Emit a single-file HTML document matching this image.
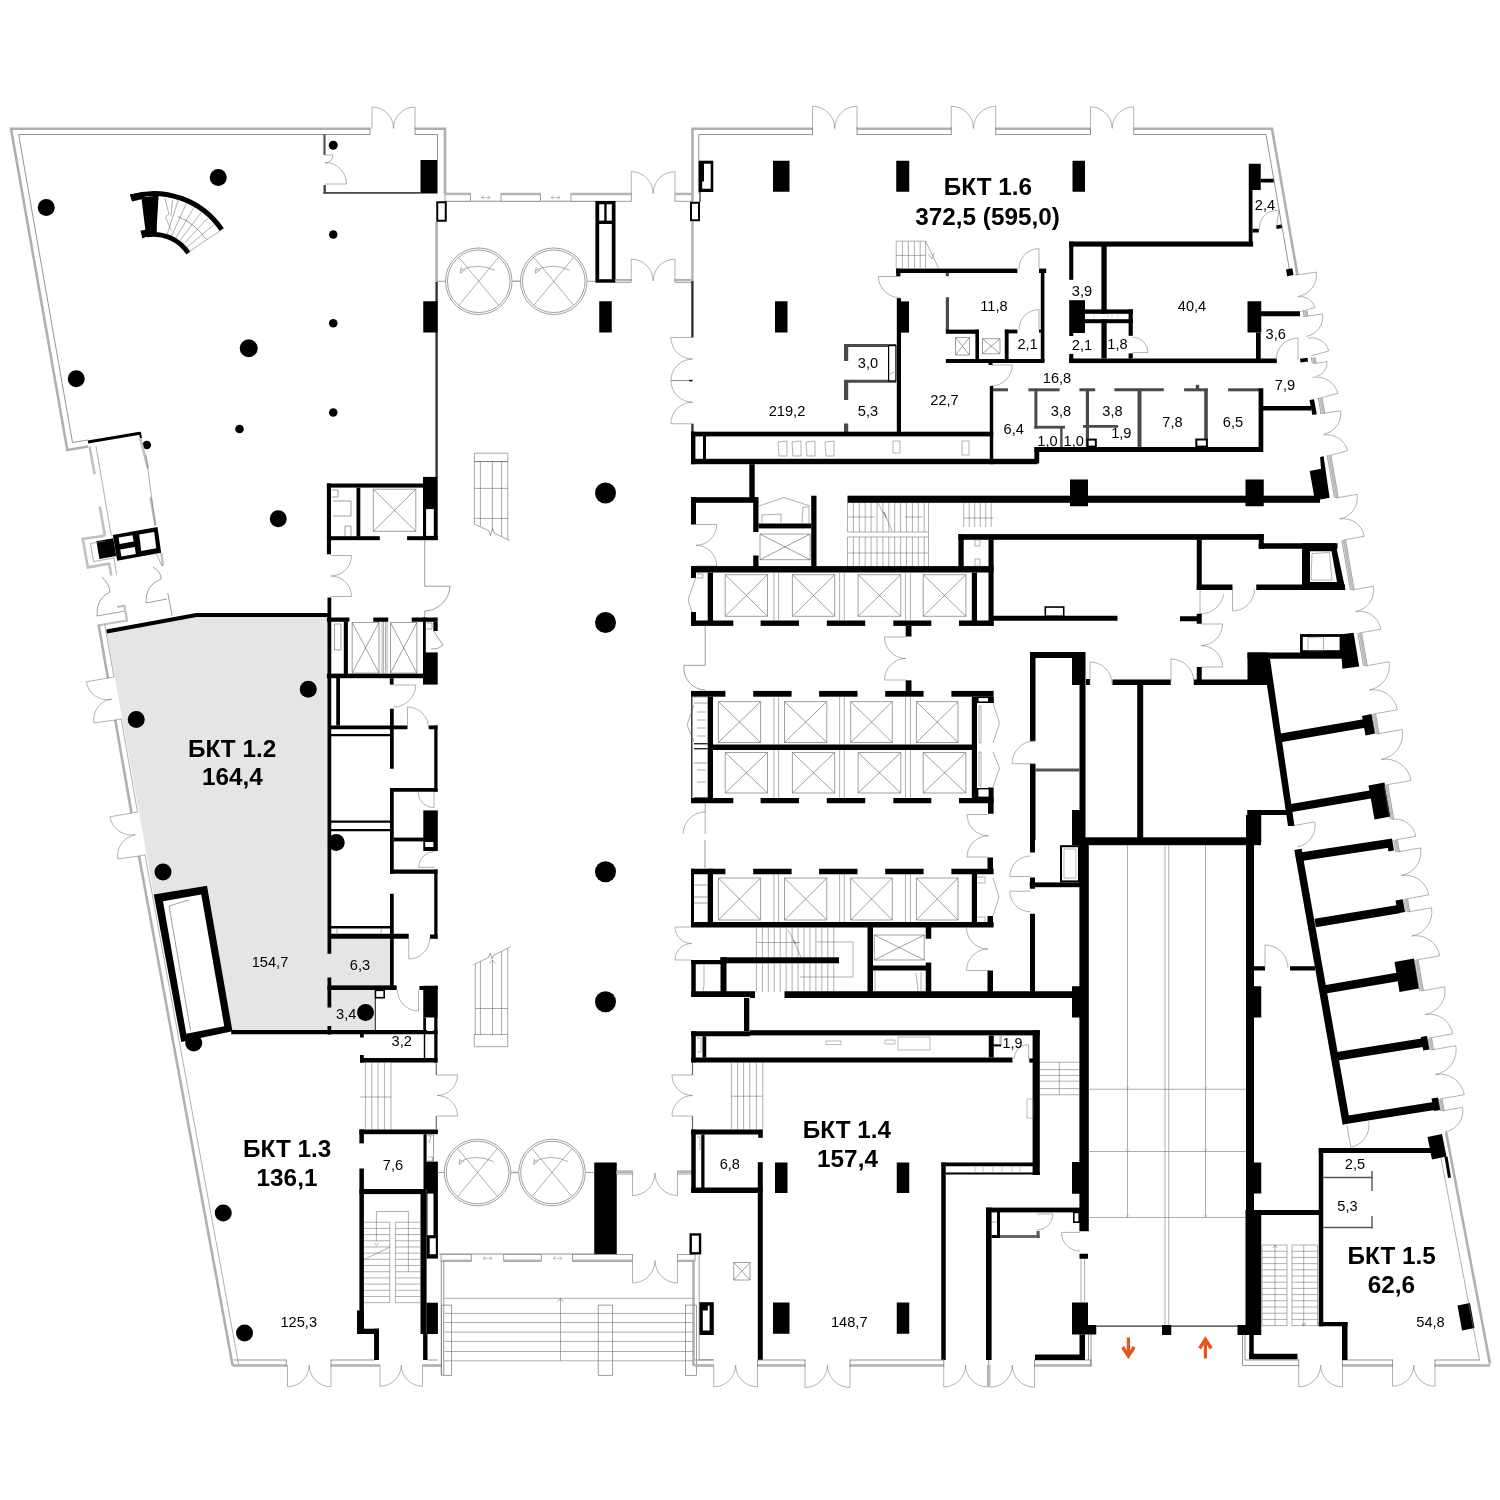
<!DOCTYPE html>
<html><head><meta charset="utf-8"><title>Plan</title>
<style>html,body{margin:0;padding:0;background:#fff}body{width:1500px;height:1500px;overflow:hidden}svg{display:block}text{font-family:"Liberation Sans",sans-serif;fill:#000}</style>
</head><body>
<svg width="1500" height="1500" viewBox="0 0 1500 1500">
<rect width="1500" height="1500" fill="#fff"/>
<polygon points="106.5,631 196.25,614.5 331,614.5 331,938.75 390,938.75 390,987 374,987 374,1032 232.5,1032 207,885.75 153.75,894.5" fill="#e5e5e5"/>
<polyline points="370,128.7 11,128.7 67.3,450 88,446.5" fill="none" stroke="#b0b0b0" stroke-width="2.6" />
<polyline points="370,134.5 18.6,134.5 72.5,442.5 88,440" fill="none" stroke="#7a7a7a" stroke-width="0.8" />
<line x1="370" y1="127.6" x2="370" y2="134.8" stroke="#7a7a7a" stroke-width="0.8"/>
<path d="M372 128.5L372 107A21.5 21.5 0 0 1 393.5 128.5" fill="none" stroke="#808080" stroke-width="0.6"/>
<path d="M415 128.5L415 107A21.5 21.5 0 0 0 393.5 128.5" fill="none" stroke="#808080" stroke-width="0.6"/>
<polyline points="415,128.7 445,128.7 445,193.5" fill="none" stroke="#b0b0b0" stroke-width="2.6" />
<polyline points="415,134.5 437.5,134.5 437.5,160" fill="none" stroke="#7a7a7a" stroke-width="0.8" />
<line x1="415" y1="127.6" x2="415" y2="134.8" stroke="#7a7a7a" stroke-width="0.8"/>
<line x1="88" y1="442" x2="139.7" y2="433.2" stroke="#000" stroke-width="3"/>
<line x1="139.7" y1="432" x2="141" y2="438" stroke="#000" stroke-width="2"/>
<circle cx="46.25" cy="207.5" r="8.5" fill="#000"/>
<circle cx="218.25" cy="177.5" r="8.5" fill="#000"/>
<circle cx="333.25" cy="145.25" r="4.5" fill="#000"/>
<circle cx="333.25" cy="234.5" r="4.3" fill="#000"/>
<circle cx="333.25" cy="323.25" r="4.3" fill="#000"/>
<circle cx="248.75" cy="348.25" r="9" fill="#000"/>
<circle cx="76.25" cy="378.75" r="8.5" fill="#000"/>
<circle cx="333.25" cy="412.5" r="4.3" fill="#000"/>
<circle cx="239.5" cy="429" r="4.3" fill="#000"/>
<circle cx="146.8" cy="445" r="4.3" fill="#000"/>
<circle cx="278.25" cy="518.75" r="8.5" fill="#000"/>
<line x1="324.5" y1="134.5" x2="324.5" y2="155" stroke="#555" stroke-width="2.2"/>
<line x1="324.7" y1="185" x2="324.7" y2="193.8" stroke="#444" stroke-width="2.4"/>
<line x1="323.5" y1="192.9" x2="420.5" y2="192.9" stroke="#444" stroke-width="1.8"/>
<path d="M325 184L346.5 184A21.5 21.5 0 0 0 325 162.5" fill="none" stroke="#808080" stroke-width="0.6"/>
<path d="M325 155L333 155A8 8 0 0 1 325 163" fill="none" stroke="#808080" stroke-width="0.6"/>
<rect x="420.5" y="160" width="17" height="33.5" fill="#000"/>
<path d="M130.66 196.8A82.1 82.1 0 0 1 221.76 229.69" fill="none" stroke="#000" stroke-width="5"/>
<path d="M146.53 234.93A41.3 41.3 0 0 1 188.34 253.11" fill="none" stroke="#000" stroke-width="4.7"/>
<path d="M177.6 216.45A63.8 63.8 0 0 1 206.59 239.92" fill="none" stroke="#606060" stroke-width="0.6"/>
<polygon points="141.4,197.5 158.6,195.5 156.4,232.6 145.4,230.5" fill="#000"/>
<polygon points="140.4,230.8 156.5,227.5 156.5,232.5 142.4,238.4" fill="#000"/>
<polygon points="130,194.4 145,192 145,198.5 132,201.6" fill="#000"/>
<line x1="166.99" y1="234.7" x2="178.42" y2="199.52" stroke="#606060" stroke-width="0.5"/>
<line x1="171.4" y1="236.41" x2="186.62" y2="202.69" stroke="#606060" stroke-width="0.5"/>
<line x1="175.59" y1="238.59" x2="194.42" y2="206.74" stroke="#606060" stroke-width="0.5"/>
<line x1="179.58" y1="241.26" x2="201.85" y2="211.71" stroke="#606060" stroke-width="0.5"/>
<line x1="183.19" y1="244.31" x2="208.57" y2="217.38" stroke="#606060" stroke-width="0.5"/>
<line x1="186.49" y1="247.79" x2="214.71" y2="223.86" stroke="#606060" stroke-width="0.5"/>
<line x1="189.35" y1="251.55" x2="220.02" y2="230.86" stroke="#606060" stroke-width="0.5"/>
<polyline points="164.8,198 169,214 165.5,217 171.5,231" fill="none" stroke="#606060" stroke-width="0.5" />
<polyline points="172.5,200 171,216.5" fill="none" stroke="#606060" stroke-width="0.5" />
<line x1="89.6" y1="446.4" x2="94.6" y2="474.3" stroke="#c0c0c0" stroke-width="2.6"/>
<line x1="99.8" y1="506.5" x2="104.9" y2="535.8" stroke="#c0c0c0" stroke-width="2.6"/>
<line x1="95.9" y1="445.7" x2="111.3" y2="535.8" stroke="#7a7a7a" stroke-width="0.6"/>
<line x1="140.3" y1="438.3" x2="148" y2="468.4" stroke="#c0c0c0" stroke-width="2.6"/>
<line x1="150.5" y1="497.5" x2="155.5" y2="525.6" stroke="#c0c0c0" stroke-width="2.6"/>
<line x1="146" y1="455" x2="155.3" y2="525.6" stroke="#7a7a7a" stroke-width="0.6"/>
<polygon points="112.8,535.1 157.5,527 161.2,552.7 117.2,560.8" fill="#000"/>
<polygon points="118.6,537.6 132.6,535.2 133.6,541.6 119.6,544" fill="#fff"/>
<polygon points="120.3,549.6 134.8,547 135.8,554 121.3,556.6" fill="#fff"/>
<polygon points="139.2,534.6 154.2,532 156.2,548.2 141.2,551" fill="#fff"/>
<polygon points="96.4,541.2 113.2,538.2 116.2,556 99.4,559" fill="#000"/>
<polyline points="104.7,535.8 82.7,538.8 87.9,567.4 109.1,563.7 111.3,575.4" fill="none" stroke="#c0c0c0" stroke-width="2.6" />
<polyline points="104.9,541 90.5,543.5 93.6,561.5 114,558 116.5,574.5" fill="none" stroke="#7a7a7a" stroke-width="0.6" />
<path d="M102 577 q8 8 8 15 q-14 6 -13 24 l28 -5" fill="none" stroke="#606060" stroke-width="0.6"/>
<path d="M153 567 q9 6 8 12 q-16 6 -15 24 l21 -4" fill="none" stroke="#606060" stroke-width="0.6"/>
<line x1="167.8" y1="593" x2="172.2" y2="615.7" stroke="#aaa" stroke-width="1.2"/>
<polyline points="117.2,607 124.5,605.7 127,620.5 118,622 97.5,625.5" fill="none" stroke="#c0c0c0" stroke-width="2.2" />
<line x1="161.4" y1="553" x2="163" y2="566" stroke="#c0c0c0" stroke-width="2.4"/>
<line x1="156" y1="553" x2="162" y2="566" stroke="#999" stroke-width="0.8"/>
<line x1="98.67" y1="625" x2="107.92" y2="678" stroke="#b0b0b0" stroke-width="2.6"/>
<line x1="104.67" y1="624" x2="113.92" y2="677" stroke="#7a7a7a" stroke-width="0.6"/>
<line x1="115.25" y1="720" x2="131.49" y2="813" stroke="#b0b0b0" stroke-width="2.6"/>
<line x1="121.25" y1="719" x2="137.49" y2="812" stroke="#7a7a7a" stroke-width="0.6"/>
<line x1="139" y1="856" x2="232.65" y2="1365.5" stroke="#b0b0b0" stroke-width="2.6"/>
<line x1="145" y1="855" x2="238.65" y2="1364.5" stroke="#7a7a7a" stroke-width="0.6"/>
<polyline points="232.35,1365.5 286.25,1365.5" fill="none" stroke="#b0b0b0" stroke-width="2.6" />
<line x1="233.75" y1="1360" x2="286.25" y2="1360" stroke="#7a7a7a" stroke-width="0.8"/>
<line x1="286.25" y1="1359.6" x2="286.25" y2="1366.6" stroke="#7a7a7a" stroke-width="0.8"/>
<path d="M107.92 678L86.26 681.82A22 22 0 0 0 111.89 699.64" fill="none" stroke="#808080" stroke-width="0.6"/>
<path d="M115.25 720L93.86 723.01A21.6 21.6 0 0 1 111.36 698.75" fill="none" stroke="#808080" stroke-width="0.6"/>
<path d="M131.49 813L109.83 816.82A22 22 0 0 0 135.46 834.64" fill="none" stroke="#808080" stroke-width="0.6"/>
<path d="M139 856L117.71 858.99A21.5 21.5 0 0 1 135.12 834.85" fill="none" stroke="#808080" stroke-width="0.6"/>
<line x1="106.92" y1="678.2" x2="114.42" y2="676.9" stroke="#808080" stroke-width="0.6"/>
<line x1="114.25" y1="720.2" x2="121.75" y2="718.9" stroke="#808080" stroke-width="0.6"/>
<line x1="130.49" y1="813.2" x2="137.99" y2="811.9" stroke="#808080" stroke-width="0.6"/>
<line x1="138" y1="856.2" x2="145.5" y2="854.9" stroke="#808080" stroke-width="0.6"/>
<path d="M287.5 1365L287.5 1386.75A21.75 21.75 0 0 0 309.25 1365" fill="none" stroke="#808080" stroke-width="0.6"/>
<path d="M331 1365L331 1386.75A21.75 21.75 0 0 1 309.25 1365" fill="none" stroke="#808080" stroke-width="0.6"/>
<polyline points="331,1365.5 380,1365.5" fill="none" stroke="#b0b0b0" stroke-width="2.6" />
<line x1="331" y1="1360" x2="375" y2="1360" stroke="#7a7a7a" stroke-width="0.8"/>
<line x1="331" y1="1359.6" x2="331" y2="1366.6" stroke="#7a7a7a" stroke-width="0.8"/>
<path d="M380 1365L380 1386.25A21.25 21.25 0 0 0 401.25 1365" fill="none" stroke="#808080" stroke-width="0.6"/>
<path d="M422.5 1365L422.5 1386.25A21.25 21.25 0 0 1 401.25 1365" fill="none" stroke="#808080" stroke-width="0.6"/>
<polyline points="422.5,1365.5 441.5,1365.5" fill="none" stroke="#b0b0b0" stroke-width="2.6" />
<line x1="427.5" y1="1360" x2="437.5" y2="1360" stroke="#7a7a7a" stroke-width="0.8"/>
<polyline points="106.6,631.5 196.25,615 331,615" fill="none" stroke="#000" stroke-width="4" />
<polygon points="153.75,894.5 207,885.75 232.5,1031.25 181.25,1042" fill="#000"/>
<polygon points="163,901.25 201.25,894.5 224.25,1026.25 186.25,1033.75" fill="#fff"/>
<polyline points="169.5,1033 169.5,1033" fill="none" stroke="#666" stroke-width="0.1" />
<line x1="169" y1="906" x2="190.5" y2="1030" stroke="#606060" stroke-width="0.6"/>
<line x1="169" y1="906" x2="189" y2="900" stroke="#606060" stroke-width="0.6"/>
<circle cx="308.25" cy="689.25" r="8.5" fill="#000"/>
<circle cx="136.25" cy="719.5" r="8.5" fill="#000"/>
<circle cx="163" cy="872" r="8.5" fill="#000"/>
<circle cx="193.75" cy="1043" r="8.5" fill="#000"/>
<circle cx="336.25" cy="842.5" r="8.5" fill="#000"/>
<circle cx="365.5" cy="1012.5" r="8.5" fill="#000"/>
<circle cx="223.25" cy="1213" r="8.5" fill="#000"/>
<circle cx="244.5" cy="1333" r="8.5" fill="#000"/>
<line x1="231.25" y1="1032.1" x2="437.5" y2="1032.1" stroke="#000" stroke-width="4.2"/>
<rect x="326.9" y="483.5" width="96.6" height="4.1" fill="#000"/>
<rect x="326.9" y="483.5" width="4.1" height="70.8" fill="#000"/>
<rect x="356.5" y="487.6" width="3.8" height="49.1" fill="#000"/>
<rect x="326.9" y="536.2" width="52.9" height="4" fill="#000"/>
<rect x="407.1" y="536.2" width="30.6" height="4" fill="#000"/>
<rect x="423" y="476.9" width="14.7" height="62.9" fill="#000"/>
<rect x="426.1" y="509.1" width="7.7" height="26.8" fill="#fff"/>
<path d="M373.3 489.2H415.8V531.3H373.3ZM373.3 489.2L415.8 531.3M415.8 489.2L373.3 531.3" fill="none" stroke="#606060" stroke-width="0.6"/>
<polyline points="333,501 351,501 351,516 333,516" fill="none" stroke="#606060" stroke-width="0.6" />
<polyline points="345,536 345,526 351,526 351,536" fill="none" stroke="#606060" stroke-width="0.6" />
<polyline points="332,490 338,490 338,497 332,497" fill="none" stroke="#606060" stroke-width="0.6" />
<path d="M331 555.5L351.5 555.5A20.5 20.5 0 0 1 331 576" fill="none" stroke="#808080" stroke-width="0.6"/>
<path d="M331 596.5L351.5 596.5A20.5 20.5 0 0 0 331 576" fill="none" stroke="#808080" stroke-width="0.6"/>
<polyline points="424.7,540.2 424.7,586.2 450,586.2" fill="none" stroke="#888" stroke-width="0.8" />
<path d="M450 586.2 A26 26 0 0 1 424.7 611" fill="none" stroke="#606060" stroke-width="0.6"/>
<line x1="424.7" y1="611" x2="424.7" y2="618" stroke="#888" stroke-width="0.8"/>
<rect x="327.5" y="597.5" width="3.75" height="356.25" fill="#000"/>
<rect x="327.5" y="977.5" width="3.75" height="30" fill="#000"/>
<rect x="327.5" y="1026" width="3.75" height="8.5" fill="#000"/>
<rect x="326.9" y="617.5" width="22.5" height="4.3" fill="#000"/>
<rect x="373.3" y="617.5" width="14.9" height="4.3" fill="#000"/>
<rect x="411.7" y="617.5" width="26" height="4.3" fill="#000"/>
<rect x="343.8" y="621.8" width="4.1" height="52.1" fill="#000"/>
<rect x="326.9" y="673.6" width="96.6" height="4.6" fill="#000"/>
<rect x="423" y="652.4" width="14.7" height="32.2" fill="#000"/>
<rect x="423" y="617.5" width="2.8" height="35.5" fill="#000"/>
<rect x="433.4" y="621.8" width="4.3" height="9.2" fill="#000"/>
<rect x="389.8" y="678.2" width="3.8" height="6.4" fill="#000"/>
<path d="M352.2 622.5H379V673.1H352.2ZM352.2 622.5L379 673.1M379 622.5L352.2 673.1" fill="none" stroke="#606060" stroke-width="0.6"/>
<path d="M390.5 622.5H416.9V673.1H390.5ZM390.5 622.5L416.9 673.1M416.9 622.5L390.5 673.1" fill="none" stroke="#606060" stroke-width="0.6"/>
<line x1="382.1" y1="621.8" x2="382.1" y2="673.6" stroke="#606060" stroke-width="0.5"/>
<line x1="383.6" y1="621.8" x2="383.6" y2="673.6" stroke="#606060" stroke-width="0.5"/>
<line x1="385.6" y1="621.8" x2="385.6" y2="673.6" stroke="#606060" stroke-width="0.5"/>
<line x1="387.1" y1="621.8" x2="387.1" y2="673.6" stroke="#606060" stroke-width="0.5"/>
<polyline points="334.5,624 341,624 341,650 334.5,650 334.5,624" fill="none" stroke="#606060" stroke-width="0.6" />
<polyline points="426.5,623 432,623 432,629 426.5,629" fill="none" stroke="#606060" stroke-width="0.6" />
<path d="M433.5 631 L443 645 L437.5 648.5 L431 649" fill="none" stroke="#606060" stroke-width="0.6"/>
<path d="M393.6 685L415.6 685A22 22 0 0 1 393.6 707" fill="none" stroke="#808080" stroke-width="0.6"/>
<rect x="336.25" y="678" width="3.75" height="47.5" fill="#000"/>
<rect x="331" y="725.5" width="76.5" height="3.75" fill="#000"/>
<rect x="390" y="708.75" width="3.75" height="60" fill="#000"/>
<rect x="428.75" y="725.5" width="8.75" height="3.75" fill="#000"/>
<rect x="434.25" y="725.5" width="3.25" height="66.25" fill="#000"/>
<rect x="390" y="788" width="47.5" height="3.75" fill="#000"/>
<rect x="390" y="788" width="3.75" height="85.75" fill="#000"/>
<line x1="331" y1="735.2" x2="390.3" y2="735.2" stroke="#000" stroke-width="2.2"/>
<line x1="331" y1="821.6" x2="390.3" y2="821.6" stroke="#000" stroke-width="2.2"/>
<line x1="331" y1="830.2" x2="390.3" y2="830.2" stroke="#000" stroke-width="2.2"/>
<rect x="393.7" y="837.6" width="30.2" height="3.8" fill="#000"/>
<rect x="423.3" y="810.4" width="14.5" height="40.6" fill="#000"/>
<rect x="425.2" y="842" width="8.2" height="5" fill="#fff"/>
<path d="M407.5 728L407.5 707A21 21 0 0 1 428.5 728" fill="none" stroke="#808080" stroke-width="0.6"/>
<path d="M434 791.75L434 807.75A16 16 0 0 1 418 791.75" fill="none" stroke="#808080" stroke-width="0.6"/>
<rect x="390" y="869.5" width="47.5" height="4.25" fill="#000"/>
<rect x="434.25" y="869.5" width="3.25" height="69.25" fill="#000"/>
<rect x="430" y="934.5" width="7.5" height="4.25" fill="#000"/>
<rect x="390" y="893.75" width="3.75" height="93.75" fill="#000"/>
<rect x="331" y="933.75" width="77.75" height="5" fill="#000"/>
<line x1="331" y1="927.2" x2="390" y2="927.2" stroke="#000" stroke-width="2.4"/>
<line x1="337" y1="928.4" x2="337" y2="935" stroke="#606060" stroke-width="0.5"/>
<line x1="382" y1="928.4" x2="380" y2="935" stroke="#606060" stroke-width="0.5"/>
<path d="M408.75 938L408.75 959A21 21 0 0 0 429.75 938" fill="none" stroke="#808080" stroke-width="0.6"/>
<path d="M434.7 867.4L418.7 867.4A16 16 0 0 1 434.7 851.4" fill="none" stroke="#808080" stroke-width="0.6"/>
<rect x="327.5" y="985.4" width="69.2" height="4.6" fill="#000"/>
<rect x="419.4" y="986" width="18.1" height="4" fill="#000"/>
<rect x="423.25" y="985.75" width="14.25" height="31.75" fill="#000"/>
<rect x="427" y="1018" width="6.5" height="13" fill="#fff"/>
<rect x="434.25" y="985.75" width="3.25" height="76.75" fill="#000"/>
<rect x="423.25" y="1017.5" width="2.75" height="15.5" fill="#000"/>
<line x1="375.3" y1="998" x2="375.3" y2="1031" stroke="#333" stroke-width="1.2"/>
<rect x="375.4" y="990.3" width="8.8" height="7.4" fill="#fff" stroke="#000" stroke-width="1.6"/>
<path d="M418.5 990L418.5 1011A21 21 0 0 1 397.5 990" fill="none" stroke="#808080" stroke-width="0.6"/>
<rect x="360" y="1032.5" width="3.75" height="5" fill="#000"/>
<rect x="360" y="1055" width="3.75" height="7.5" fill="#000"/>
<rect x="360" y="1058" width="77.5" height="4.5" fill="#000"/>
<line x1="424.5" y1="1033.75" x2="424.5" y2="1058" stroke="#000" stroke-width="1.4"/>
<line x1="365.5" y1="1062.5" x2="365.5" y2="1129.5" stroke="#606060" stroke-width="0.5"/>
<line x1="371.8" y1="1062.5" x2="371.8" y2="1129.5" stroke="#606060" stroke-width="0.5"/>
<line x1="378" y1="1062.5" x2="378" y2="1129.5" stroke="#606060" stroke-width="0.5"/>
<line x1="384.4" y1="1062.5" x2="384.4" y2="1129.5" stroke="#606060" stroke-width="0.5"/>
<line x1="360" y1="1097" x2="391" y2="1097" stroke="#606060" stroke-width="0.5"/>
<line x1="391" y1="1062.5" x2="391" y2="1129.5" stroke="#606060" stroke-width="0.5"/>
<rect x="359.4" y="1129.5" width="78.5" height="4.7" fill="#000"/>
<rect x="359.4" y="1129.5" width="4.5" height="13.9" fill="#000"/>
<rect x="359.4" y="1168.5" width="4.5" height="165.5" fill="#000"/>
<rect x="357" y="1310.5" width="6.9" height="23.5" fill="#000"/>
<rect x="357" y="1328.7" width="22" height="5.3" fill="#000"/>
<rect x="374.1" y="1328.7" width="4.9" height="31.3" fill="#000"/>
<rect x="359.4" y="1189" width="63.7" height="5.1" fill="#000"/>
<rect x="420.5" y="1189" width="6.1" height="145" fill="#000"/>
<rect x="423.5" y="1134.2" width="3.1" height="27.8" fill="#000"/>
<rect x="423.5" y="1161.6" width="14.4" height="27.7" fill="#000"/>
<rect x="426.6" y="1189" width="11.3" height="69.6" fill="#000"/>
<rect x="427.5" y="1193.6" width="6" height="41.6" fill="#fff"/>
<rect x="429.7" y="1238.3" width="6.1" height="15.9" fill="#fff"/>
<rect x="426.6" y="1302.7" width="11.3" height="31.3" fill="#000"/>
<rect x="423.1" y="1334" width="4.4" height="26" fill="#000"/>
<polyline points="427.5,1135 433.5,1135 433.5,1161 427.5,1161" fill="none" stroke="#606060" stroke-width="0.6" />
<polyline points="428.5,1136 431,1136 429,1143" fill="none" stroke="#606060" stroke-width="0.5" />
<polyline points="428.5,1157 432.5,1157 432.5,1161" fill="none" stroke="#606060" stroke-width="0.5" />
<line x1="364.2" y1="1222.2" x2="389.7" y2="1222.2" stroke="#606060" stroke-width="0.5"/>
<line x1="395.4" y1="1222.2" x2="420.5" y2="1222.2" stroke="#606060" stroke-width="0.5"/>
<line x1="364.2" y1="1228.39" x2="389.7" y2="1228.39" stroke="#606060" stroke-width="0.5"/>
<line x1="395.4" y1="1228.39" x2="420.5" y2="1228.39" stroke="#606060" stroke-width="0.5"/>
<line x1="364.2" y1="1234.58" x2="389.7" y2="1234.58" stroke="#606060" stroke-width="0.5"/>
<line x1="395.4" y1="1234.58" x2="420.5" y2="1234.58" stroke="#606060" stroke-width="0.5"/>
<line x1="364.2" y1="1240.77" x2="389.7" y2="1240.77" stroke="#606060" stroke-width="0.5"/>
<line x1="395.4" y1="1240.77" x2="420.5" y2="1240.77" stroke="#606060" stroke-width="0.5"/>
<line x1="364.2" y1="1246.96" x2="389.7" y2="1246.96" stroke="#606060" stroke-width="0.5"/>
<line x1="395.4" y1="1246.96" x2="420.5" y2="1246.96" stroke="#606060" stroke-width="0.5"/>
<line x1="364.2" y1="1253.15" x2="389.7" y2="1253.15" stroke="#606060" stroke-width="0.5"/>
<line x1="395.4" y1="1253.15" x2="420.5" y2="1253.15" stroke="#606060" stroke-width="0.5"/>
<line x1="364.2" y1="1259.34" x2="389.7" y2="1259.34" stroke="#606060" stroke-width="0.5"/>
<line x1="395.4" y1="1259.34" x2="420.5" y2="1259.34" stroke="#606060" stroke-width="0.5"/>
<line x1="364.2" y1="1265.53" x2="389.7" y2="1265.53" stroke="#606060" stroke-width="0.5"/>
<line x1="395.4" y1="1265.53" x2="420.5" y2="1265.53" stroke="#606060" stroke-width="0.5"/>
<line x1="364.2" y1="1271.72" x2="389.7" y2="1271.72" stroke="#606060" stroke-width="0.5"/>
<line x1="395.4" y1="1271.72" x2="420.5" y2="1271.72" stroke="#606060" stroke-width="0.5"/>
<line x1="364.2" y1="1277.91" x2="389.7" y2="1277.91" stroke="#606060" stroke-width="0.5"/>
<line x1="395.4" y1="1277.91" x2="420.5" y2="1277.91" stroke="#606060" stroke-width="0.5"/>
<line x1="364.2" y1="1284.1" x2="389.7" y2="1284.1" stroke="#606060" stroke-width="0.5"/>
<line x1="395.4" y1="1284.1" x2="420.5" y2="1284.1" stroke="#606060" stroke-width="0.5"/>
<line x1="364.2" y1="1290.29" x2="389.7" y2="1290.29" stroke="#606060" stroke-width="0.5"/>
<line x1="395.4" y1="1290.29" x2="420.5" y2="1290.29" stroke="#606060" stroke-width="0.5"/>
<line x1="364.2" y1="1296.48" x2="389.7" y2="1296.48" stroke="#606060" stroke-width="0.5"/>
<line x1="395.4" y1="1296.48" x2="420.5" y2="1296.48" stroke="#606060" stroke-width="0.5"/>
<line x1="364.2" y1="1302.67" x2="389.7" y2="1302.67" stroke="#606060" stroke-width="0.5"/>
<line x1="395.4" y1="1302.67" x2="420.5" y2="1302.67" stroke="#606060" stroke-width="0.5"/>
<line x1="389.7" y1="1222.2" x2="389.7" y2="1302.7" stroke="#606060" stroke-width="0.5"/>
<line x1="395.4" y1="1222.2" x2="395.4" y2="1302.7" stroke="#606060" stroke-width="0.5"/>
<polyline points="376.4,1241.3 376.4,1211.5 408.4,1211.5 408.4,1271.6" fill="none" stroke="#606060" stroke-width="0.5" />
<line x1="364.2" y1="1259.4" x2="389.7" y2="1247.3" stroke="#606060" stroke-width="0.5"/>
<polyline points="374.4,1243 376.4,1245.5 378.4,1243" fill="none" stroke="#606060" stroke-width="0.5" />
<line x1="436.6" y1="221.75" x2="436.6" y2="282" stroke="#b0b0b0" stroke-width="2.6"/>
<line x1="436.6" y1="282" x2="436.6" y2="477" stroke="#333" stroke-width="2.4"/>
<line x1="436.25" y1="1062.5" x2="436.25" y2="1075" stroke="#666" stroke-width="1.2"/>
<line x1="436.25" y1="1116" x2="436.25" y2="1129.5" stroke="#666" stroke-width="1.2"/>
<path d="M437 1075L457.5 1075A20.5 20.5 0 0 1 437 1095.5" fill="none" stroke="#808080" stroke-width="0.6"/>
<path d="M437 1116L457.5 1116A20.5 20.5 0 0 0 437 1095.5" fill="none" stroke="#808080" stroke-width="0.6"/>
<rect x="423.25" y="301.25" width="14.25" height="31.25" fill="#000"/>
<line x1="445" y1="201.2" x2="595.5" y2="201.2" stroke="#666" stroke-width="0.7"/>
<rect x="445" y="193.2" width="25.5" height="8" fill="#fff"/>
<rect x="445" y="193.2" width="25.5" height="8" fill="#fff" stroke="#777" stroke-width="0.7"/>
<line x1="445" y1="194.2" x2="470.5" y2="194.2" stroke="#b4b4b4" stroke-width="2"/>
<rect x="501" y="193.2" width="39.5" height="8" fill="#fff"/>
<rect x="501" y="193.2" width="39.5" height="8" fill="#fff" stroke="#777" stroke-width="0.7"/>
<line x1="501" y1="194.2" x2="540.5" y2="194.2" stroke="#b4b4b4" stroke-width="2"/>
<rect x="571" y="193.2" width="60.25" height="8" fill="#fff"/>
<rect x="571" y="193.2" width="60.25" height="8" fill="#fff" stroke="#777" stroke-width="0.7"/>
<line x1="571" y1="194.2" x2="631.25" y2="194.2" stroke="#b4b4b4" stroke-width="2"/>
<rect x="675" y="193.2" width="17.5" height="8" fill="#fff"/>
<rect x="675" y="193.2" width="17.5" height="8" fill="#fff" stroke="#777" stroke-width="0.7"/>
<line x1="675" y1="194.2" x2="692.5" y2="194.2" stroke="#b4b4b4" stroke-width="2"/>
<path d="M481.25 197.5h9m-9 0l2.5 -1.8m-2.5 1.8l2.5 1.8m6.5 -1.8l-2.5 -1.8m2.5 1.8l-2.5 1.8" fill="none" stroke="#888" stroke-width="0.5"/>
<path d="M551 197.5h9m-9 0l2.5 -1.8m-2.5 1.8l2.5 1.8m6.5 -1.8l-2.5 -1.8m2.5 1.8l-2.5 1.8" fill="none" stroke="#888" stroke-width="0.5"/>
<path d="M631.25 193.5L631.25 171.62A21.88 21.88 0 0 1 653.12 193.5" fill="none" stroke="#808080" stroke-width="0.6"/>
<path d="M675 193.5L675 171.62A21.88 21.88 0 0 0 653.12 193.5" fill="none" stroke="#808080" stroke-width="0.6"/>
<rect x="437.25" y="202.25" width="8.5" height="18.5" fill="#fff" stroke="#000" stroke-width="2"/>
<rect x="691" y="202.75" width="8" height="17.5" fill="#fff" stroke="#000" stroke-width="2"/>
<rect x="595.4" y="201" width="20.1" height="81.7" fill="#000"/>
<rect x="599.2" y="204.3" width="5.1" height="16.3" fill="#fff"/>
<rect x="606.6" y="204.3" width="5.2" height="16.3" fill="#fff"/>
<rect x="599.2" y="224" width="12.6" height="55.2" fill="#fff"/>
<line x1="700" y1="190" x2="700" y2="202" stroke="#000" stroke-width="1"/>
<rect x="599.25" y="301.25" width="12.5" height="31.25" fill="#000"/>
<circle cx="478.75" cy="281.25" r="33.3" fill="none" stroke="#777" stroke-width="0.7"/>
<circle cx="478.75" cy="281.25" r="31.3" fill="none" stroke="#777" stroke-width="0.7"/>
<line x1="459.25" y1="257.75" x2="498.25" y2="304.75" stroke="#777" stroke-width="0.6"/>
<line x1="498.25" y1="257.75" x2="459.25" y2="304.75" stroke="#777" stroke-width="0.6"/>
<path d="M460.75 270.25 q17 -8 34 0 M461.25 267.25 l-1 6 l5 -3.5" fill="none" stroke="#777" stroke-width="0.6"/>
<circle cx="553.75" cy="281.25" r="33.3" fill="none" stroke="#777" stroke-width="0.7"/>
<circle cx="553.75" cy="281.25" r="31.3" fill="none" stroke="#777" stroke-width="0.7"/>
<line x1="534.25" y1="257.75" x2="573.25" y2="304.75" stroke="#777" stroke-width="0.6"/>
<line x1="573.25" y1="257.75" x2="534.25" y2="304.75" stroke="#777" stroke-width="0.6"/>
<path d="M535.75 270.25 q17 -8 34 0 M536.25 267.25 l-1 6 l5 -3.5" fill="none" stroke="#777" stroke-width="0.6"/>
<line x1="436.25" y1="281.25" x2="445.3" y2="281.25" stroke="#888" stroke-width="0.8"/>
<line x1="512.2" y1="281.25" x2="520.3" y2="281.25" stroke="#aaa" stroke-width="1.6"/>
<line x1="587.2" y1="281.25" x2="595.5" y2="281.25" stroke="#888" stroke-width="0.8"/>
<circle cx="477.5" cy="1172.5" r="33.3" fill="none" stroke="#777" stroke-width="0.7"/>
<circle cx="477.5" cy="1172.5" r="31.3" fill="none" stroke="#777" stroke-width="0.7"/>
<line x1="458" y1="1149" x2="497" y2="1196" stroke="#777" stroke-width="0.6"/>
<line x1="497" y1="1149" x2="458" y2="1196" stroke="#777" stroke-width="0.6"/>
<path d="M459.5 1161.5 q17 -8 34 0 M460 1158.5 l-1 6 l5 -3.5" fill="none" stroke="#777" stroke-width="0.6"/>
<circle cx="552" cy="1172.5" r="33.3" fill="none" stroke="#777" stroke-width="0.7"/>
<circle cx="552" cy="1172.5" r="31.3" fill="none" stroke="#777" stroke-width="0.7"/>
<line x1="532.5" y1="1149" x2="571.5" y2="1196" stroke="#777" stroke-width="0.6"/>
<line x1="571.5" y1="1149" x2="532.5" y2="1196" stroke="#777" stroke-width="0.6"/>
<path d="M534 1161.5 q17 -8 34 0 M534.5 1158.5 l-1 6 l5 -3.5" fill="none" stroke="#777" stroke-width="0.6"/>
<line x1="437.5" y1="1172.5" x2="444" y2="1172.5" stroke="#888" stroke-width="0.8"/>
<line x1="511" y1="1172.5" x2="518.5" y2="1172.5" stroke="#aaa" stroke-width="1.6"/>
<line x1="585.5" y1="1172.5" x2="594.25" y2="1172.5" stroke="#888" stroke-width="0.8"/>
<rect x="615.5" y="279.3" width="15.5" height="3" fill="#fff"/>
<rect x="615.5" y="279.3" width="15.5" height="3" fill="#fff" stroke="#777" stroke-width="0.7"/>
<line x1="615.5" y1="280.3" x2="631" y2="280.3" stroke="#b4b4b4" stroke-width="2"/>
<rect x="675" y="279.3" width="17.5" height="3" fill="#fff"/>
<rect x="675" y="279.3" width="17.5" height="3" fill="#fff" stroke="#777" stroke-width="0.7"/>
<line x1="675" y1="280.3" x2="692.5" y2="280.3" stroke="#b4b4b4" stroke-width="2"/>
<path d="M631.25 281L631.25 259.12A21.88 21.88 0 0 1 653.12 281" fill="none" stroke="#808080" stroke-width="0.6"/>
<path d="M675 281L675 259.12A21.88 21.88 0 0 0 653.12 281" fill="none" stroke="#808080" stroke-width="0.6"/>
<line x1="692.4" y1="221" x2="692.4" y2="281" stroke="#b0b0b0" stroke-width="2.4"/>
<line x1="692.4" y1="281" x2="692.4" y2="337.5" stroke="#333" stroke-width="2.4"/>
<line x1="692.4" y1="423.75" x2="692.4" y2="433" stroke="#333" stroke-width="2.4"/>
<path d="M692.5 337.5L670.95 337.5A21.55 21.55 0 0 0 692.5 359.05" fill="none" stroke="#808080" stroke-width="0.6"/>
<path d="M692.5 380.6L670.95 380.6A21.55 21.55 0 0 1 692.5 359.05" fill="none" stroke="#808080" stroke-width="0.6"/>
<path d="M692.5 380.6L670.92 380.6A21.57 21.57 0 0 0 692.5 402.18" fill="none" stroke="#808080" stroke-width="0.6"/>
<path d="M692.5 423.75L670.92 423.75A21.57 21.57 0 0 1 692.5 402.18" fill="none" stroke="#808080" stroke-width="0.6"/>
<line x1="689" y1="380.6" x2="692.5" y2="380.6" stroke="#222" stroke-width="1.6"/>
<circle cx="605.5" cy="493" r="10.5" fill="#000"/>
<circle cx="605.5" cy="622.5" r="10.5" fill="#000"/>
<circle cx="605.5" cy="871.75" r="10.5" fill="#000"/>
<circle cx="605.5" cy="1001.75" r="10.5" fill="#000"/>
<polyline points="474.4,523.6 474.4,453.2 507.8,453.2 507.8,539.6" fill="none" stroke="#606060" stroke-width="0.55" />
<line x1="474.4" y1="461.6" x2="507.8" y2="461.6" stroke="#777" stroke-width="1"/>
<line x1="480.4" y1="461.6" x2="480.4" y2="526.4" stroke="#606060" stroke-width="0.55"/>
<line x1="492.4" y1="461.6" x2="492.4" y2="531" stroke="#606060" stroke-width="0.55"/>
<line x1="501.6" y1="461.6" x2="501.6" y2="536.8" stroke="#606060" stroke-width="0.55"/>
<line x1="474.4" y1="488.4" x2="507.8" y2="488.4" stroke="#606060" stroke-width="0.55"/>
<line x1="474.4" y1="518.4" x2="507.8" y2="518.4" stroke="#606060" stroke-width="0.55"/>
<polyline points="473.2,523.6 489,530.8 490.5,535.5 492.5,528.5 494.5,533.4 509.6,540.4" fill="none" stroke="#606060" stroke-width="0.55" />
<polyline points="475.3,964.2 475.3,1034.5 474.3,1034.5 474.3,1046.7 507.7,1046.7 507.7,948.2" fill="none" stroke="#606060" stroke-width="0.55" />
<line x1="474.3" y1="1034.5" x2="507.7" y2="1034.5" stroke="#606060" stroke-width="0.55"/>
<line x1="475.3" y1="1008.5" x2="507.7" y2="1008.5" stroke="#606060" stroke-width="0.55"/>
<line x1="480.4" y1="961.7" x2="480.4" y2="1034.5" stroke="#606060" stroke-width="0.55"/>
<line x1="492.5" y1="960.4" x2="492.5" y2="1034.5" stroke="#606060" stroke-width="0.55"/>
<line x1="501.6" y1="951.2" x2="501.6" y2="1034.5" stroke="#606060" stroke-width="0.55"/>
<polyline points="473.4,964.7 488.5,957.5 490.2,953 492,959 494,955 510.7,946.9" fill="none" stroke="#606060" stroke-width="0.55" />
<polyline points="489.5,963.5 492.5,960.2 495.5,963.5" fill="none" stroke="#606060" stroke-width="0.5" />
<rect x="594.25" y="1162.5" width="22.5" height="92.5" fill="#000"/>
<rect x="616.75" y="1171" width="15.75" height="3" fill="#fff"/>
<rect x="616.75" y="1171" width="15.75" height="3" fill="#fff" stroke="#777" stroke-width="0.7"/>
<line x1="616.75" y1="1172" x2="632.5" y2="1172" stroke="#b4b4b4" stroke-width="2"/>
<rect x="677.5" y="1171" width="14.5" height="3" fill="#fff"/>
<rect x="677.5" y="1171" width="14.5" height="3" fill="#fff" stroke="#777" stroke-width="0.7"/>
<line x1="677.5" y1="1172" x2="692" y2="1172" stroke="#b4b4b4" stroke-width="2"/>
<path d="M632.5 1173L632.5 1195.5A22.5 22.5 0 0 0 655 1173" fill="none" stroke="#808080" stroke-width="0.6"/>
<path d="M677.5 1173L677.5 1195.5A22.5 22.5 0 0 1 655 1173" fill="none" stroke="#808080" stroke-width="0.6"/>
<line x1="438.75" y1="1254" x2="594.25" y2="1254" stroke="#666" stroke-width="0.7"/>
<rect x="441" y="1254.4" width="30.25" height="7.2" fill="#fff"/>
<rect x="441" y="1254.4" width="30.25" height="7.2" fill="#fff" stroke="#777" stroke-width="0.7"/>
<line x1="441" y1="1260.6" x2="471.25" y2="1260.6" stroke="#b4b4b4" stroke-width="2"/>
<rect x="503.75" y="1254.4" width="37.5" height="7.2" fill="#fff"/>
<rect x="503.75" y="1254.4" width="37.5" height="7.2" fill="#fff" stroke="#777" stroke-width="0.7"/>
<line x1="503.75" y1="1260.6" x2="541.25" y2="1260.6" stroke="#b4b4b4" stroke-width="2"/>
<rect x="572.5" y="1254.4" width="60" height="7.2" fill="#fff"/>
<rect x="572.5" y="1254.4" width="60" height="7.2" fill="#fff" stroke="#777" stroke-width="0.7"/>
<line x1="572.5" y1="1260.6" x2="632.5" y2="1260.6" stroke="#b4b4b4" stroke-width="2"/>
<rect x="677.5" y="1254.4" width="17.5" height="7.2" fill="#fff"/>
<rect x="677.5" y="1254.4" width="17.5" height="7.2" fill="#fff" stroke="#777" stroke-width="0.7"/>
<line x1="677.5" y1="1260.6" x2="695" y2="1260.6" stroke="#b4b4b4" stroke-width="2"/>
<path d="M483 1258.25h9m-9 0l2.5 -1.8m-2.5 1.8l2.5 1.8m6.5 -1.8l-2.5 -1.8m2.5 1.8l-2.5 1.8" fill="none" stroke="#888" stroke-width="0.5"/>
<path d="M553 1258.25h9m-9 0l2.5 -1.8m-2.5 1.8l2.5 1.8m6.5 -1.8l-2.5 -1.8m2.5 1.8l-2.5 1.8" fill="none" stroke="#888" stroke-width="0.5"/>
<path d="M632.5 1260.5L632.5 1283A22.5 22.5 0 0 0 655 1260.5" fill="none" stroke="#808080" stroke-width="0.6"/>
<path d="M677.5 1260.5L677.5 1283A22.5 22.5 0 0 1 655 1260.5" fill="none" stroke="#808080" stroke-width="0.6"/>
<rect x="690.7" y="1234.45" width="9.35" height="18.85" fill="#fff" stroke="#000" stroke-width="2.4"/>
<rect x="699.2" y="1302.2" width="14.6" height="32.8" fill="#000"/>
<polygon points="702.8,1310.6 707.8,1310.6 707.8,1305.8 709.6,1305.8 709.6,1330.4 702.8,1330.4" fill="#fff"/>
<line x1="441.25" y1="1261" x2="441.25" y2="1375" stroke="#7a7a7a" stroke-width="0.8"/>
<line x1="443.75" y1="1261" x2="443.75" y2="1375" stroke="#7a7a7a" stroke-width="0.8"/>
<line x1="693.5" y1="1261.6" x2="693.5" y2="1366" stroke="#b0b0b0" stroke-width="2.6"/>
<line x1="699.2" y1="1255" x2="699.2" y2="1359.8" stroke="#7a7a7a" stroke-width="0.7"/>
<line x1="699.2" y1="1359.8" x2="713.8" y2="1359.8" stroke="#7a7a7a" stroke-width="0.7"/>
<line x1="444.5" y1="1298.3" x2="693" y2="1298.3" stroke="#666" stroke-width="0.55"/>
<line x1="444.5" y1="1313.4" x2="693" y2="1313.4" stroke="#666" stroke-width="0.55"/>
<line x1="444.5" y1="1322.5" x2="693" y2="1322.5" stroke="#666" stroke-width="0.55"/>
<line x1="444.5" y1="1332.1" x2="693" y2="1332.1" stroke="#666" stroke-width="0.55"/>
<line x1="444.5" y1="1341.4" x2="693" y2="1341.4" stroke="#666" stroke-width="0.55"/>
<line x1="444.5" y1="1351.5" x2="693" y2="1351.5" stroke="#666" stroke-width="0.55"/>
<line x1="444.5" y1="1360.8" x2="693" y2="1360.8" stroke="#666" stroke-width="0.55"/>
<rect x="441.6" y="1305.1" width="10.1" height="70.2" fill="none" stroke="#777" stroke-width="0.7"/>
<rect x="598.2" y="1305.1" width="14.5" height="70.2" fill="none" stroke="#777" stroke-width="0.7"/>
<rect x="685.6" y="1305.1" width="10.8" height="70.2" fill="none" stroke="#777" stroke-width="0.7"/>
<line x1="560.5" y1="1298.3" x2="560.5" y2="1360.8" stroke="#666" stroke-width="0.55"/>
<polyline points="557.5,1301.8 560.5,1298.3 563.5,1301.8" fill="none" stroke="#666" stroke-width="0.55" />
<polyline points="695,1365.5 713.75,1365.5" fill="none" stroke="#b0b0b0" stroke-width="2.6" />
<line x1="695" y1="1360" x2="713.75" y2="1360" stroke="#7a7a7a" stroke-width="0.8"/>
<path d="M733.75 1262.5H750V1280H733.75ZM733.75 1262.5L750 1280M750 1262.5L733.75 1280" fill="none" stroke="#606060" stroke-width="0.6"/>
<polyline points="692.5,201 692.5,128.7 812.5,128.7" fill="none" stroke="#b0b0b0" stroke-width="2.6" />
<polyline points="698.75,193.5 698.75,134.5 812.5,134.5" fill="none" stroke="#7a7a7a" stroke-width="0.8" />
<line x1="857" y1="128.7" x2="951.25" y2="128.7" stroke="#b0b0b0" stroke-width="2.6"/>
<line x1="857" y1="134.5" x2="951.25" y2="134.5" stroke="#7a7a7a" stroke-width="0.8"/>
<line x1="995.75" y1="128.7" x2="1090.5" y2="128.7" stroke="#b0b0b0" stroke-width="2.6"/>
<line x1="995.75" y1="134.5" x2="1090.5" y2="134.5" stroke="#7a7a7a" stroke-width="0.8"/>
<line x1="812.5" y1="127.6" x2="812.5" y2="134.8" stroke="#7a7a7a" stroke-width="0.8"/>
<line x1="857" y1="127.6" x2="857" y2="134.8" stroke="#7a7a7a" stroke-width="0.8"/>
<line x1="951.25" y1="127.6" x2="951.25" y2="134.8" stroke="#7a7a7a" stroke-width="0.8"/>
<line x1="995.75" y1="127.6" x2="995.75" y2="134.8" stroke="#7a7a7a" stroke-width="0.8"/>
<line x1="1090.5" y1="127.6" x2="1090.5" y2="134.8" stroke="#7a7a7a" stroke-width="0.8"/>
<line x1="1133.75" y1="127.6" x2="1133.75" y2="134.8" stroke="#7a7a7a" stroke-width="0.8"/>
<polyline points="1133.75,128.7 1272,128.7 1297.5,275" fill="none" stroke="#b0b0b0" stroke-width="2.6" />
<polyline points="1133.75,134.5 1266,134.5 1289.5,270" fill="none" stroke="#7a7a7a" stroke-width="0.8" />
<path d="M812.5 128.5L812.5 106.25A22.25 22.25 0 0 1 834.75 128.5" fill="none" stroke="#808080" stroke-width="0.6"/>
<path d="M857 128.5L857 106.25A22.25 22.25 0 0 0 834.75 128.5" fill="none" stroke="#808080" stroke-width="0.6"/>
<path d="M951.25 128.5L951.25 106.25A22.25 22.25 0 0 1 973.5 128.5" fill="none" stroke="#808080" stroke-width="0.6"/>
<path d="M995.75 128.5L995.75 106.25A22.25 22.25 0 0 0 973.5 128.5" fill="none" stroke="#808080" stroke-width="0.6"/>
<path d="M1090.5 128.5L1090.5 106.88A21.62 21.62 0 0 1 1112.12 128.5" fill="none" stroke="#808080" stroke-width="0.6"/>
<path d="M1133.75 128.5L1133.75 106.88A21.62 21.62 0 0 0 1112.12 128.5" fill="none" stroke="#808080" stroke-width="0.6"/>
<rect x="698.7" y="160.7" width="14.6" height="31.3" fill="#000"/>
<polygon points="704,163.7 710.7,163.7 710.7,188.7 702.2,188.7 702.2,181.5 704,181.5" fill="#fff"/>
<rect x="773" y="160.75" width="16.5" height="31" fill="#000"/>
<rect x="896.25" y="160.75" width="13" height="31" fill="#000"/>
<rect x="1072.5" y="160.75" width="12.5" height="31" fill="#000"/>
<rect x="775" y="301.25" width="12.5" height="31.25" fill="#000"/>
<rect x="897.5" y="301.4" width="11.5" height="31.2" fill="#000"/>
<rect x="1069.2" y="300.2" width="15.8" height="32.8" fill="#000"/>
<rect x="1248.75" y="163.75" width="12" height="26.25" fill="#000"/>
<rect x="1247.5" y="301.25" width="13.75" height="31.25" fill="#000"/>
<rect x="896.2" y="268.6" width="121.2" height="4.4" fill="#000"/>
<rect x="1039" y="268.6" width="7.2" height="4.4" fill="#000"/>
<rect x="1040.8" y="273" width="3.6" height="89" fill="#000"/>
<rect x="896.2" y="268.6" width="4.2" height="7.6" fill="#000"/>
<rect x="896.8" y="298.2" width="4.2" height="134.3" fill="#000"/>
<path d="M899.5 276.5L878.5 276.5A21 21 0 0 0 899.5 297.5" fill="none" stroke="#808080" stroke-width="0.6"/>
<path d="M1039 268.6L1039 248.6A20 20 0 0 0 1019 268.6" fill="none" stroke="#808080" stroke-width="0.6"/>
<line x1="947.3" y1="273" x2="947.3" y2="276.2" stroke="#4a4a4a" stroke-width="3.2"/>
<line x1="947.4" y1="297.2" x2="947.4" y2="330" stroke="#4a4a4a" stroke-width="3.2"/>
<rect x="945.8" y="329.6" width="33.2" height="4.2" fill="#000"/>
<rect x="975.4" y="329.6" width="3.6" height="30.4" fill="#000"/>
<rect x="1004.8" y="329.6" width="12.6" height="3.8" fill="#000"/>
<rect x="1039" y="329.6" width="4" height="3" fill="#000"/>
<rect x="1004.8" y="329.6" width="3.8" height="30.4" fill="#000"/>
<rect x="945.8" y="359" width="98.6" height="4" fill="#000"/>
<path d="M1039 329.6L1039 309.6A20 20 0 0 0 1019 329.6" fill="none" stroke="#808080" stroke-width="0.6"/>
<path d="M955.5 337.5H969.5V355H955.5ZM955.5 337.5L969.5 355M969.5 337.5L955.5 355" fill="none" stroke="#606060" stroke-width="0.6"/>
<path d="M982.5 338.75H1000V353.75H982.5ZM982.5 338.75L1000 353.75M1000 338.75L982.5 353.75" fill="none" stroke="#606060" stroke-width="0.6"/>
<path d="M991.25 365L1012.25 365A21 21 0 0 1 991.25 386" fill="none" stroke="#808080" stroke-width="0.6"/>
<rect x="988.5" y="361" width="4" height="4" fill="#000"/>
<line x1="896.2" y1="241.2" x2="896.2" y2="268.6" stroke="#606060" stroke-width="0.5"/>
<line x1="902.4" y1="241.2" x2="902.4" y2="268.6" stroke="#606060" stroke-width="0.5"/>
<line x1="908.4" y1="241.2" x2="908.4" y2="268.6" stroke="#606060" stroke-width="0.5"/>
<line x1="914.4" y1="241.2" x2="914.4" y2="268.6" stroke="#606060" stroke-width="0.5"/>
<line x1="920.2" y1="241.2" x2="920.2" y2="268.6" stroke="#606060" stroke-width="0.5"/>
<line x1="925.6" y1="241.2" x2="925.6" y2="268.6" stroke="#606060" stroke-width="0.5"/>
<line x1="896.2" y1="241.2" x2="925.6" y2="241.2" stroke="#606060" stroke-width="0.5"/>
<line x1="896.2" y1="255.4" x2="925.6" y2="255.4" stroke="#606060" stroke-width="0.5"/>
<polyline points="925.6,241.2 938.8,268.6" fill="none" stroke="#606060" stroke-width="0.5" />
<polyline points="928,254 932,259 934,253" fill="none" stroke="#606060" stroke-width="0.5" />
<rect x="1069.2" y="241.5" width="183.9" height="5.1" fill="#000"/>
<rect x="1069.2" y="241.5" width="4.1" height="38.3" fill="#000"/>
<rect x="1069.2" y="333" width="4.1" height="3" fill="#000"/>
<rect x="1069.2" y="353.9" width="4.1" height="8.7" fill="#000"/>
<rect x="1101.4" y="246" width="5.3" height="112.5" fill="#000"/>
<rect x="1069.2" y="358.5" width="207.6" height="4.6" fill="#000"/>
<rect x="1085" y="313.6" width="45" height="5.8" fill="#fff"/>
<rect x="1085" y="309.4" width="47.8" height="4.4" fill="#000"/>
<rect x="1085" y="319.2" width="47.8" height="4" fill="#000"/>
<line x1="1094" y1="314" x2="1094" y2="319" stroke="#bbb" stroke-width="0.5"/>
<line x1="1108" y1="314" x2="1108" y2="319" stroke="#bbb" stroke-width="0.5"/>
<line x1="1112" y1="314" x2="1112" y2="319" stroke="#bbb" stroke-width="0.5"/>
<line x1="1118" y1="314" x2="1118" y2="319" stroke="#bbb" stroke-width="0.5"/>
<rect x="1128.6" y="309.4" width="4.2" height="26.4" fill="#000"/>
<rect x="1128.6" y="353.4" width="4.2" height="5.1" fill="#000"/>
<path d="M1132.5 352.6L1148 352.6A15.5 15.5 0 0 0 1132.5 337.1" fill="none" stroke="#808080" stroke-width="0.6"/>
<rect x="1248.75" y="190" width="3.75" height="56.25" fill="#000"/>
<rect x="1260.75" y="178.75" width="13" height="3.75" fill="#000"/>
<rect x="1252.5" y="228.75" width="6.25" height="3.75" fill="#000"/>
<polygon points="1276,225.5 1281.5,224.5 1282.2,228 1276.7,229" fill="#000"/>
<path d="M1276.5 227.5L1278.87 210.67A17 17 0 0 0 1259.67 229.87" fill="none" stroke="#808080" stroke-width="0.6"/>
<polygon points="1286,269.5 1292.3,268.3 1293.5,275 1287.2,276.2" fill="#000"/>
<rect x="1261" y="311.25" width="39" height="5" fill="#000"/>
<rect x="1256" y="332.5" width="4.75" height="28.5" fill="#000"/>
<polygon points="1300,358.8 1307.5,357.8 1308,361.5 1300.5,362.5" fill="#000"/>
<path d="M1298 360L1298 338A22 22 0 0 0 1276 360" fill="none" stroke="#808080" stroke-width="0.6"/>
<line x1="844" y1="345.6" x2="896" y2="345.6" stroke="#4a4a4a" stroke-width="3"/>
<line x1="846.1" y1="345" x2="846.1" y2="361" stroke="#4a4a4a" stroke-width="4.2"/>
<line x1="846.1" y1="380" x2="846.1" y2="400" stroke="#4a4a4a" stroke-width="4.2"/>
<line x1="846.1" y1="423.5" x2="846.1" y2="432.5" stroke="#4a4a4a" stroke-width="4.2"/>
<line x1="844.2" y1="381.25" x2="896" y2="381.25" stroke="#4a4a4a" stroke-width="3"/>
<rect x="888.6" y="345.6" width="7.3" height="35.3" fill="#fff" stroke="#000" stroke-width="1.2"/>
<line x1="890" y1="374" x2="894" y2="372" stroke="#666" stroke-width="0.5"/>
<rect x="691" y="431.7" width="302.2" height="4.7" fill="#000"/>
<rect x="691" y="458.8" width="346.5" height="5.4" fill="#000"/>
<rect x="691" y="431.7" width="4.4" height="32.5" fill="#000"/>
<rect x="703" y="436" width="3" height="23" fill="#000"/>
<rect x="989.8" y="386" width="3.4" height="78.2" fill="#000"/>
<polyline points="778,442 787,441 787,456 779,456 778,442" fill="none" stroke="#666" stroke-width="0.5" />
<polyline points="792,442 801,441 801,456 793,456 792,442" fill="none" stroke="#666" stroke-width="0.5" />
<polyline points="806,442 815,441 815,456 807,456 806,442" fill="none" stroke="#666" stroke-width="0.5" />
<polyline points="825,442 834,441 834,456 826,456 825,442" fill="none" stroke="#666" stroke-width="0.5" />
<polyline points="893,441 900,441 900,453 893,453 893,441" fill="none" stroke="#666" stroke-width="0.5" />
<polyline points="962,441 969,441 969,455 962,455 962,441" fill="none" stroke="#666" stroke-width="0.5" />
<line x1="993" y1="389.8" x2="1008" y2="389.8" stroke="#4a4a4a" stroke-width="3"/>
<line x1="1028.4" y1="389.8" x2="1059.6" y2="389.8" stroke="#4a4a4a" stroke-width="3"/>
<line x1="1079.4" y1="389.8" x2="1095.2" y2="389.8" stroke="#4a4a4a" stroke-width="3"/>
<line x1="1114.4" y1="389.8" x2="1163.8" y2="389.8" stroke="#4a4a4a" stroke-width="3"/>
<line x1="1184.1" y1="389.8" x2="1207.9" y2="389.8" stroke="#4a4a4a" stroke-width="3"/>
<line x1="1228.1" y1="389.8" x2="1260" y2="389.8" stroke="#4a4a4a" stroke-width="3"/>
<line x1="1197.5" y1="384.8" x2="1197.5" y2="389" stroke="#4a4a4a" stroke-width="3.4"/>
<line x1="1035.9" y1="388.75" x2="1035.9" y2="428.6" stroke="#4a4a4a" stroke-width="3"/>
<line x1="1034.4" y1="427.2" x2="1065" y2="427.2" stroke="#4a4a4a" stroke-width="2.8"/>
<line x1="1061.4" y1="427.2" x2="1061.4" y2="447" stroke="#4a4a4a" stroke-width="2.4"/>
<line x1="1087.4" y1="388.75" x2="1087.4" y2="447" stroke="#4a4a4a" stroke-width="3.2"/>
<line x1="1083" y1="426.4" x2="1118.2" y2="426.4" stroke="#4a4a4a" stroke-width="2.8"/>
<rect x="1087.6" y="439.6" width="8.2" height="7" fill="#fff" stroke="#000" stroke-width="2"/>
<line x1="1139.5" y1="388.75" x2="1139.5" y2="447" stroke="#4a4a4a" stroke-width="4"/>
<line x1="1206" y1="388.75" x2="1206" y2="440" stroke="#4a4a4a" stroke-width="3.6"/>
<rect x="1196.3" y="439.5" width="10.6" height="7.1" fill="#fff" stroke="#000" stroke-width="2"/>
<rect x="1034.4" y="447" width="228.6" height="5" fill="#000"/>
<rect x="1034.4" y="447" width="4.8" height="16.4" fill="#000"/>
<rect x="1258.6" y="388.3" width="4.7" height="63.6" fill="#000"/>
<rect x="1263" y="406" width="48" height="4.5" fill="#000"/>
<polygon points="1309.5,400 1314,399.2 1316.8,414.2 1312.3,415" fill="#000"/>
<path d="M1295 275.1L1316.29 272.11A21.5 21.5 0 0 1 1298.73 296.27" fill="none" stroke="#808080" stroke-width="0.6"/>
<path d="M1300.5 311.5L1314.99 307.62A15 15 0 0 0 1297.9 296.73" fill="none" stroke="#808080" stroke-width="0.6"/>
<path d="M1302.8 316.7L1322.61 313.92A20 20 0 0 1 1306.27 336.4" fill="none" stroke="#808080" stroke-width="0.6"/>
<path d="M1311.4 355.7L1328.79 351.04A18 18 0 0 0 1308.27 337.97" fill="none" stroke="#808080" stroke-width="0.6"/>
<path d="M1314 363.5L1326.87 361.69A13 13 0 0 1 1316.26 376.3" fill="none" stroke="#808080" stroke-width="0.6"/>
<path d="M1316.6 399L1337.85 393.31A22 22 0 0 0 1312.78 377.33" fill="none" stroke="#808080" stroke-width="0.6"/>
<path d="M1320.1 413.7L1340.6 410.82A20.7 20.7 0 0 1 1323.69 434.09" fill="none" stroke="#808080" stroke-width="0.6"/>
<path d="M1327 456.2L1347.67 450.66A21.4 21.4 0 0 0 1323.28 435.13" fill="none" stroke="#808080" stroke-width="0.6"/>
<line x1="1305.18" y1="310.6" x2="1306.23" y2="316.7" stroke="#bbb" stroke-width="2.4"/>
<line x1="1303.18" y1="310.6" x2="1304.23" y2="316.7" stroke="#666" stroke-width="0.6"/>
<line x1="1306.98" y1="310.6" x2="1308.03" y2="316.7" stroke="#666" stroke-width="0.6"/>
<line x1="1313.3" y1="357.4" x2="1314.35" y2="363.5" stroke="#bbb" stroke-width="2.4"/>
<line x1="1311.3" y1="357.4" x2="1312.35" y2="363.5" stroke="#666" stroke-width="0.6"/>
<line x1="1315.1" y1="357.4" x2="1316.15" y2="363.5" stroke="#666" stroke-width="0.6"/>
<line x1="1320.34" y1="398" x2="1323.06" y2="413.7" stroke="#bbb" stroke-width="2.4"/>
<line x1="1318.34" y1="398" x2="1321.06" y2="413.7" stroke="#666" stroke-width="0.6"/>
<line x1="1322.14" y1="398" x2="1324.86" y2="413.7" stroke="#666" stroke-width="0.6"/>
<rect x="749.3" y="464.2" width="5.4" height="33.8" fill="#000"/>
<rect x="691" y="497.2" width="67" height="5.6" fill="#000"/>
<rect x="691" y="497.2" width="5" height="27.3" fill="#000"/>
<rect x="753.2" y="497.2" width="5.3" height="34.8" fill="#000"/>
<rect x="753.2" y="555.5" width="5.3" height="11.7" fill="#000"/>
<rect x="811.2" y="495.7" width="5.3" height="71.5" fill="#000"/>
<rect x="758.5" y="523.5" width="52.7" height="4.9" fill="#000"/>
<path d="M760 534.1H810.1V559.7H760ZM760 534.1L810.1 559.7M810.1 534.1L760 559.7" fill="none" stroke="#606060" stroke-width="0.6"/>
<polyline points="759,506 784,497.5 810,506" fill="none" stroke="#606060" stroke-width="0.5" />
<polyline points="762,523 762,515 781,514 781,523" fill="none" stroke="#606060" stroke-width="0.5" />
<polyline points="802,523 803,507 809,507 809,523" fill="none" stroke="#606060" stroke-width="0.5" />
<path d="M696 524.5L716.75 524.5A20.75 20.75 0 0 1 696 545.25" fill="none" stroke="#808080" stroke-width="0.6"/>
<path d="M696 566L716.75 566A20.75 20.75 0 0 0 696 545.25" fill="none" stroke="#808080" stroke-width="0.6"/>
<rect x="847.5" y="495.7" width="472.5" height="7.1" fill="#000"/>
<rect x="691" y="566.1" width="302.6" height="6.4" fill="#000"/>
<line x1="847.5" y1="502.8" x2="847.5" y2="532" stroke="#606060" stroke-width="0.5"/>
<line x1="847.5" y1="537" x2="847.5" y2="566" stroke="#606060" stroke-width="0.5"/>
<line x1="853.4" y1="502.8" x2="853.4" y2="532" stroke="#606060" stroke-width="0.5"/>
<line x1="853.4" y1="537" x2="853.4" y2="566" stroke="#606060" stroke-width="0.5"/>
<line x1="859.3" y1="502.8" x2="859.3" y2="532" stroke="#606060" stroke-width="0.5"/>
<line x1="859.3" y1="537" x2="859.3" y2="566" stroke="#606060" stroke-width="0.5"/>
<line x1="865.2" y1="502.8" x2="865.2" y2="532" stroke="#606060" stroke-width="0.5"/>
<line x1="865.2" y1="537" x2="865.2" y2="566" stroke="#606060" stroke-width="0.5"/>
<line x1="871.1" y1="502.8" x2="871.1" y2="532" stroke="#606060" stroke-width="0.5"/>
<line x1="871.1" y1="537" x2="871.1" y2="566" stroke="#606060" stroke-width="0.5"/>
<line x1="877" y1="502.8" x2="877" y2="532" stroke="#606060" stroke-width="0.5"/>
<line x1="877" y1="537" x2="877" y2="566" stroke="#606060" stroke-width="0.5"/>
<line x1="882.9" y1="502.8" x2="882.9" y2="532" stroke="#606060" stroke-width="0.5"/>
<line x1="882.9" y1="537" x2="882.9" y2="566" stroke="#606060" stroke-width="0.5"/>
<line x1="888.8" y1="502.8" x2="888.8" y2="532" stroke="#606060" stroke-width="0.5"/>
<line x1="888.8" y1="537" x2="888.8" y2="566" stroke="#606060" stroke-width="0.5"/>
<line x1="894.7" y1="502.8" x2="894.7" y2="532" stroke="#606060" stroke-width="0.5"/>
<line x1="894.7" y1="537" x2="894.7" y2="566" stroke="#606060" stroke-width="0.5"/>
<line x1="900.6" y1="502.8" x2="900.6" y2="532" stroke="#606060" stroke-width="0.5"/>
<line x1="900.6" y1="537" x2="900.6" y2="566" stroke="#606060" stroke-width="0.5"/>
<line x1="906.5" y1="502.8" x2="906.5" y2="532" stroke="#606060" stroke-width="0.5"/>
<line x1="906.5" y1="537" x2="906.5" y2="566" stroke="#606060" stroke-width="0.5"/>
<line x1="912.4" y1="502.8" x2="912.4" y2="532" stroke="#606060" stroke-width="0.5"/>
<line x1="912.4" y1="537" x2="912.4" y2="566" stroke="#606060" stroke-width="0.5"/>
<line x1="918.3" y1="502.8" x2="918.3" y2="532" stroke="#606060" stroke-width="0.5"/>
<line x1="918.3" y1="537" x2="918.3" y2="566" stroke="#606060" stroke-width="0.5"/>
<line x1="924.2" y1="502.8" x2="924.2" y2="532" stroke="#606060" stroke-width="0.5"/>
<line x1="924.2" y1="537" x2="924.2" y2="566" stroke="#606060" stroke-width="0.5"/>
<line x1="847.5" y1="532" x2="928.5" y2="532" stroke="#606060" stroke-width="0.5"/>
<line x1="847.5" y1="537" x2="928.5" y2="537" stroke="#606060" stroke-width="0.5"/>
<line x1="928.5" y1="502.8" x2="928.5" y2="566" stroke="#606060" stroke-width="0.5"/>
<line x1="847.5" y1="517" x2="875" y2="517" stroke="#606060" stroke-width="0.5"/>
<line x1="905" y1="517" x2="923" y2="517" stroke="#606060" stroke-width="0.5"/>
<line x1="847.5" y1="553" x2="928" y2="553" stroke="#606060" stroke-width="0.5"/>
<polyline points="878,503 886,518 884,512 892,531" fill="none" stroke="#606060" stroke-width="0.5" />
<line x1="963.7" y1="502.8" x2="963.7" y2="527" stroke="#606060" stroke-width="0.5"/>
<line x1="969.2" y1="502.8" x2="969.2" y2="527" stroke="#606060" stroke-width="0.5"/>
<line x1="974.7" y1="502.8" x2="974.7" y2="527" stroke="#606060" stroke-width="0.5"/>
<line x1="980.2" y1="502.8" x2="980.2" y2="527" stroke="#606060" stroke-width="0.5"/>
<line x1="985.7" y1="502.8" x2="985.7" y2="527" stroke="#606060" stroke-width="0.5"/>
<line x1="991.2" y1="502.8" x2="991.2" y2="527" stroke="#606060" stroke-width="0.5"/>
<line x1="963.7" y1="518" x2="993" y2="518" stroke="#606060" stroke-width="0.5"/>
<rect x="958.4" y="534.1" width="305.35" height="5.7" fill="#000"/>
<rect x="958.4" y="534.1" width="5.3" height="32.9" fill="#000"/>
<rect x="988.5" y="539.5" width="5.1" height="86.4" fill="#000"/>
<polyline points="975,540 980,540 980,546 975,546 975,540" fill="none" stroke="#666" stroke-width="0.5" />
<polyline points="975,559 980,559 980,566 975,566 975,559" fill="none" stroke="#666" stroke-width="0.5" />
<rect x="993" y="615.75" width="124.5" height="5" fill="#000"/>
<rect x="1045.3" y="607.05" width="18.4" height="9.15" fill="#fff" stroke="#000" stroke-width="1.6"/>
<rect x="707.7" y="572.5" width="5.3" height="49.1" fill="#000"/>
<rect x="971.8" y="572.5" width="5.2" height="53.4" fill="#000"/>
<rect x="691" y="566.1" width="5" height="11.9" fill="#000"/>
<rect x="691" y="612" width="5" height="13.9" fill="#000"/>
<rect x="691" y="620.5" width="42.3" height="5.4" fill="#000"/>
<rect x="760.6" y="620.5" width="38.4" height="5.4" fill="#000"/>
<rect x="826.8" y="620.5" width="38.4" height="5.4" fill="#000"/>
<rect x="893.3" y="620.5" width="38" height="5.4" fill="#000"/>
<rect x="959" y="620.5" width="34.6" height="5.4" fill="#000"/>
<path d="M725.2 574.7H767.5V616.3H725.2ZM725.2 574.7L767.5 616.3M767.5 574.7L725.2 616.3" fill="none" stroke="#606060" stroke-width="0.6"/>
<path d="M792.4 574.7H834.7V616.3H792.4ZM792.4 574.7L834.7 616.3M834.7 574.7L792.4 616.3" fill="none" stroke="#606060" stroke-width="0.6"/>
<path d="M858.1 574.7H900.8V616.3H858.1ZM858.1 574.7L900.8 616.3M900.8 574.7L858.1 616.3" fill="none" stroke="#606060" stroke-width="0.6"/>
<path d="M923.2 574.7H965.9V616.3H923.2ZM923.2 574.7L965.9 616.3M965.9 574.7L923.2 616.3" fill="none" stroke="#606060" stroke-width="0.6"/>
<line x1="773.9" y1="572.5" x2="773.9" y2="620.5" stroke="#606060" stroke-width="0.5"/>
<line x1="778.6" y1="572.5" x2="778.6" y2="620.5" stroke="#606060" stroke-width="0.5"/>
<line x1="839.6" y1="572.5" x2="839.6" y2="620.5" stroke="#606060" stroke-width="0.5"/>
<line x1="844.3" y1="572.5" x2="844.3" y2="620.5" stroke="#606060" stroke-width="0.5"/>
<line x1="905.5" y1="572.5" x2="905.5" y2="620.5" stroke="#606060" stroke-width="0.5"/>
<line x1="910.4" y1="572.5" x2="910.4" y2="620.5" stroke="#606060" stroke-width="0.5"/>
<polyline points="696,577 688,600 692,612" fill="none" stroke="#606060" stroke-width="0.5" />
<polyline points="697,574 703,574 703,578 697,578" fill="none" stroke="#606060" stroke-width="0.5" />
<rect x="905.7" y="625.9" width="5.8" height="10.6" fill="#000"/>
<rect x="905.7" y="680.3" width="5.8" height="10.7" fill="#000"/>
<path d="M906 637L884.5 637A21.5 21.5 0 0 0 906 658.5" fill="none" stroke="#808080" stroke-width="0.6"/>
<path d="M906 680L884.5 680A21.5 21.5 0 0 1 906 658.5" fill="none" stroke="#808080" stroke-width="0.6"/>
<line x1="705.2" y1="625.9" x2="705.2" y2="665.3" stroke="#999" stroke-width="1"/>
<line x1="684" y1="665.3" x2="705.2" y2="665.3" stroke="#606060" stroke-width="0.6"/>
<path d="M684 665.3 A22 22 0 0 0 705.2 690" fill="none" stroke="#606060" stroke-width="0.6"/>
<rect x="691" y="690.9" width="34.4" height="5.8" fill="#000"/>
<rect x="753.2" y="690.9" width="38.4" height="5.8" fill="#000"/>
<rect x="819.1" y="690.9" width="38.4" height="5.8" fill="#000"/>
<rect x="885.2" y="690.9" width="38.4" height="5.8" fill="#000"/>
<rect x="951.4" y="690.9" width="42.2" height="5.8" fill="#000"/>
<rect x="707.7" y="696.7" width="5.3" height="106.3" fill="#000"/>
<rect x="971.8" y="696.7" width="5.2" height="106.3" fill="#000"/>
<line x1="691.8" y1="696" x2="691.8" y2="800" stroke="#222" stroke-width="1.3"/>
<rect x="713" y="744.5" width="259" height="5.5" fill="#000"/>
<path d="M718.4 701.6H760.6V742.5H718.4ZM718.4 701.6L760.6 742.5M760.6 701.6L718.4 742.5" fill="none" stroke="#606060" stroke-width="0.6"/>
<path d="M784.5 701.6H826.8V742.5H784.5ZM784.5 701.6L826.8 742.5M826.8 701.6L784.5 742.5" fill="none" stroke="#606060" stroke-width="0.6"/>
<path d="M850.7 701.6H892.3V742.5H850.7ZM850.7 701.6L892.3 742.5M892.3 701.6L850.7 742.5" fill="none" stroke="#606060" stroke-width="0.6"/>
<path d="M916.4 701.6H958V742.5H916.4ZM916.4 701.6L958 742.5M958 701.6L916.4 742.5" fill="none" stroke="#606060" stroke-width="0.6"/>
<path d="M725.2 752.5H767.5V793H725.2ZM725.2 752.5L767.5 793M767.5 752.5L725.2 793" fill="none" stroke="#606060" stroke-width="0.6"/>
<path d="M792.4 752.5H834.7V793H792.4ZM792.4 752.5L834.7 793M834.7 752.5L792.4 793" fill="none" stroke="#606060" stroke-width="0.6"/>
<path d="M858.1 752.5H900.8V793H858.1ZM858.1 752.5L900.8 793M900.8 752.5L858.1 793" fill="none" stroke="#606060" stroke-width="0.6"/>
<path d="M923.2 752.5H965.9V793H923.2ZM923.2 752.5L965.9 793M965.9 752.5L923.2 793" fill="none" stroke="#606060" stroke-width="0.6"/>
<line x1="773.9" y1="696.7" x2="773.9" y2="744.5" stroke="#606060" stroke-width="0.5"/>
<line x1="773.9" y1="750" x2="773.9" y2="798" stroke="#606060" stroke-width="0.5"/>
<line x1="778.6" y1="696.7" x2="778.6" y2="744.5" stroke="#606060" stroke-width="0.5"/>
<line x1="778.6" y1="750" x2="778.6" y2="798" stroke="#606060" stroke-width="0.5"/>
<line x1="839.6" y1="696.7" x2="839.6" y2="744.5" stroke="#606060" stroke-width="0.5"/>
<line x1="839.6" y1="750" x2="839.6" y2="798" stroke="#606060" stroke-width="0.5"/>
<line x1="844.3" y1="696.7" x2="844.3" y2="744.5" stroke="#606060" stroke-width="0.5"/>
<line x1="844.3" y1="750" x2="844.3" y2="798" stroke="#606060" stroke-width="0.5"/>
<line x1="905.5" y1="696.7" x2="905.5" y2="744.5" stroke="#606060" stroke-width="0.5"/>
<line x1="905.5" y1="750" x2="905.5" y2="798" stroke="#606060" stroke-width="0.5"/>
<line x1="910.4" y1="696.7" x2="910.4" y2="744.5" stroke="#606060" stroke-width="0.5"/>
<line x1="910.4" y1="750" x2="910.4" y2="798" stroke="#606060" stroke-width="0.5"/>
<rect x="691" y="798" width="42.3" height="5.25" fill="#000"/>
<rect x="760.6" y="798" width="38.4" height="5.25" fill="#000"/>
<rect x="826.8" y="798" width="38.4" height="5.25" fill="#000"/>
<rect x="893.3" y="798" width="38" height="5.25" fill="#000"/>
<rect x="959" y="798" width="34.6" height="5.25" fill="#000"/>
<rect x="977.8" y="697.3" width="15" height="4.9" fill="#fff" stroke="#000" stroke-width="1.6"/>
<rect x="988" y="697" width="5.6" height="6" fill="#000"/>
<rect x="988" y="787.5" width="5.6" height="26.25" fill="#000"/>
<rect x="977.7" y="788.7" width="11.6" height="8.6" fill="#fff" stroke="#000" stroke-width="1.4"/>
<polyline points="979,706 981,706 981,743 979,743 979,706" fill="none" stroke="#606060" stroke-width="0.5" />
<polyline points="979,752 981,752 981,786 979,786 979,752" fill="none" stroke="#606060" stroke-width="0.5" />
<polyline points="993,703 999.5,723 993,743" fill="none" stroke="#606060" stroke-width="0.5" />
<polyline points="993,752 999.5,768 993,787" fill="none" stroke="#606060" stroke-width="0.5" />
<line x1="694" y1="697" x2="707.7" y2="697" stroke="#606060" stroke-width="0.5"/>
<line x1="694" y1="703" x2="707.7" y2="703" stroke="#606060" stroke-width="0.6"/>
<line x1="694" y1="743.75" x2="707.7" y2="743.75" stroke="#000" stroke-width="1.2"/>
<line x1="694" y1="748.75" x2="707.7" y2="748.75" stroke="#000" stroke-width="1.2"/>
<line x1="694" y1="763" x2="707.7" y2="763" stroke="#606060" stroke-width="0.6"/>
<line x1="694" y1="797.5" x2="707.7" y2="797.5" stroke="#000" stroke-width="0.6"/>
<polyline points="694,705 687,725 694,742" fill="none" stroke="#606060" stroke-width="0.5" />
<line x1="697" y1="712" x2="706" y2="712" stroke="#606060" stroke-width="0.5"/>
<line x1="697" y1="720" x2="706" y2="720" stroke="#606060" stroke-width="0.5"/>
<line x1="697" y1="728" x2="706" y2="728" stroke="#606060" stroke-width="0.5"/>
<line x1="697" y1="736" x2="706" y2="736" stroke="#606060" stroke-width="0.5"/>
<line x1="697" y1="770" x2="706" y2="770" stroke="#606060" stroke-width="0.5"/>
<line x1="697" y1="782" x2="706" y2="782" stroke="#606060" stroke-width="0.5"/>
<line x1="705.2" y1="803" x2="705.2" y2="812" stroke="#999" stroke-width="1"/>
<path d="M705.2 834L705.2 812A22 22 0 0 0 683.2 834" fill="none" stroke="#808080" stroke-width="0.6"/>
<path d="M988.3 814.5L967.05 814.5A21.25 21.25 0 0 0 988.3 835.75" fill="none" stroke="#808080" stroke-width="0.6"/>
<path d="M988.3 857L967.05 857A21.25 21.25 0 0 1 988.3 835.75" fill="none" stroke="#808080" stroke-width="0.6"/>
<rect x="691" y="868.75" width="34.4" height="5.5" fill="#000"/>
<rect x="753.2" y="868.75" width="38.4" height="5.5" fill="#000"/>
<rect x="819.1" y="868.75" width="38.4" height="5.5" fill="#000"/>
<rect x="885.2" y="868.75" width="38.4" height="5.5" fill="#000"/>
<rect x="951.4" y="868.75" width="42.2" height="5.5" fill="#000"/>
<rect x="691" y="868.75" width="3" height="58.25" fill="#000"/>
<rect x="707.7" y="868.75" width="5.3" height="58.25" fill="#000"/>
<rect x="971.8" y="874" width="5.2" height="53" fill="#000"/>
<rect x="691" y="922" width="302.6" height="5.5" fill="#000"/>
<path d="M718.4 878H760.6V920H718.4ZM718.4 878L760.6 920M760.6 878L718.4 920" fill="none" stroke="#606060" stroke-width="0.6"/>
<path d="M784.5 878H826.8V920H784.5ZM784.5 878L826.8 920M826.8 878L784.5 920" fill="none" stroke="#606060" stroke-width="0.6"/>
<path d="M850.7 878H892.3V920H850.7ZM850.7 878L892.3 920M892.3 878L850.7 920" fill="none" stroke="#606060" stroke-width="0.6"/>
<path d="M916.4 878H958V920H916.4ZM916.4 878L958 920M958 878L916.4 920" fill="none" stroke="#606060" stroke-width="0.6"/>
<line x1="773.9" y1="874" x2="773.9" y2="922" stroke="#606060" stroke-width="0.5"/>
<line x1="778.6" y1="874" x2="778.6" y2="922" stroke="#606060" stroke-width="0.5"/>
<line x1="839.6" y1="874" x2="839.6" y2="922" stroke="#606060" stroke-width="0.5"/>
<line x1="844.3" y1="874" x2="844.3" y2="922" stroke="#606060" stroke-width="0.5"/>
<line x1="905.5" y1="874" x2="905.5" y2="922" stroke="#606060" stroke-width="0.5"/>
<line x1="910.4" y1="874" x2="910.4" y2="922" stroke="#606060" stroke-width="0.5"/>
<rect x="987.5" y="857.5" width="5.5" height="16.5" fill="#000"/>
<rect x="987.5" y="916" width="5.5" height="11" fill="#000"/>
<line x1="694" y1="885" x2="707.7" y2="885" stroke="#606060" stroke-width="0.6"/>
<line x1="694" y1="897" x2="707.7" y2="897" stroke="#606060" stroke-width="0.6"/>
<line x1="694" y1="903" x2="707.7" y2="903" stroke="#606060" stroke-width="0.6"/>
<polyline points="977,877 985,877 985,883 977,883" fill="none" stroke="#606060" stroke-width="0.5" />
<polyline points="977,917 985,917 985,922" fill="none" stroke="#606060" stroke-width="0.5" />
<polyline points="993,878 999,897 993,916" fill="none" stroke="#606060" stroke-width="0.5" />
<line x1="705" y1="840" x2="705" y2="868.75" stroke="#999" stroke-width="1"/>
<path d="M691.5 927L675 927A16.5 16.5 0 0 0 691.5 943.5" fill="none" stroke="#808080" stroke-width="0.6"/>
<path d="M691.5 960L675 960A16.5 16.5 0 0 1 691.5 943.5" fill="none" stroke="#808080" stroke-width="0.6"/>
<rect x="720.5" y="957.3" width="118.5" height="6" fill="#000"/>
<rect x="867.5" y="926" width="5.5" height="66.5" fill="#000"/>
<rect x="873" y="965.5" width="58" height="5" fill="#000"/>
<rect x="925.75" y="927" width="5.5" height="11.75" fill="#000"/>
<rect x="925.75" y="962.5" width="5.5" height="30" fill="#000"/>
<path d="M874.25 935H924.25V960H874.25ZM874.25 935L924.25 960M924.25 935L874.25 960" fill="none" stroke="#606060" stroke-width="0.6"/>
<polyline points="875,971 875,991" fill="none" stroke="#606060" stroke-width="0.5" />
<polyline points="916,973 918,991" fill="none" stroke="#606060" stroke-width="0.5" />
<line x1="921" y1="972" x2="921" y2="991" stroke="#606060" stroke-width="0.5"/>
<rect x="987.5" y="970.5" width="5.5" height="22" fill="#000"/>
<path d="M988 927.5L966.5 927.5A21.5 21.5 0 0 0 988 949" fill="none" stroke="#808080" stroke-width="0.6"/>
<path d="M988 970.5L966.5 970.5A21.5 21.5 0 0 1 988 949" fill="none" stroke="#808080" stroke-width="0.6"/>
<rect x="784.5" y="991.25" width="290.5" height="6.75" fill="#000"/>
<rect x="750" y="991.25" width="5" height="6.75" fill="#000"/>
<line x1="756.4" y1="927.9" x2="756.4" y2="957.3" stroke="#606060" stroke-width="0.5"/>
<line x1="756.4" y1="963.3" x2="756.4" y2="992" stroke="#606060" stroke-width="0.5"/>
<line x1="762.35" y1="927.9" x2="762.35" y2="957.3" stroke="#606060" stroke-width="0.5"/>
<line x1="762.35" y1="963.3" x2="762.35" y2="992" stroke="#606060" stroke-width="0.5"/>
<line x1="768.3" y1="927.9" x2="768.3" y2="957.3" stroke="#606060" stroke-width="0.5"/>
<line x1="768.3" y1="963.3" x2="768.3" y2="992" stroke="#606060" stroke-width="0.5"/>
<line x1="774.25" y1="927.9" x2="774.25" y2="957.3" stroke="#606060" stroke-width="0.5"/>
<line x1="774.25" y1="963.3" x2="774.25" y2="992" stroke="#606060" stroke-width="0.5"/>
<line x1="780.2" y1="927.9" x2="780.2" y2="957.3" stroke="#606060" stroke-width="0.5"/>
<line x1="780.2" y1="963.3" x2="780.2" y2="992" stroke="#606060" stroke-width="0.5"/>
<line x1="786.15" y1="927.9" x2="786.15" y2="957.3" stroke="#606060" stroke-width="0.5"/>
<line x1="786.15" y1="963.3" x2="786.15" y2="992" stroke="#606060" stroke-width="0.5"/>
<line x1="792.1" y1="927.9" x2="792.1" y2="957.3" stroke="#606060" stroke-width="0.5"/>
<line x1="792.1" y1="963.3" x2="792.1" y2="992" stroke="#606060" stroke-width="0.5"/>
<line x1="798.05" y1="927.9" x2="798.05" y2="957.3" stroke="#606060" stroke-width="0.5"/>
<line x1="798.05" y1="963.3" x2="798.05" y2="992" stroke="#606060" stroke-width="0.5"/>
<line x1="804" y1="927.9" x2="804" y2="957.3" stroke="#606060" stroke-width="0.5"/>
<line x1="804" y1="963.3" x2="804" y2="992" stroke="#606060" stroke-width="0.5"/>
<line x1="809.95" y1="927.9" x2="809.95" y2="957.3" stroke="#606060" stroke-width="0.5"/>
<line x1="809.95" y1="963.3" x2="809.95" y2="992" stroke="#606060" stroke-width="0.5"/>
<line x1="815.9" y1="927.9" x2="815.9" y2="957.3" stroke="#606060" stroke-width="0.5"/>
<line x1="815.9" y1="963.3" x2="815.9" y2="992" stroke="#606060" stroke-width="0.5"/>
<line x1="821.85" y1="927.9" x2="821.85" y2="957.3" stroke="#606060" stroke-width="0.5"/>
<line x1="821.85" y1="963.3" x2="821.85" y2="992" stroke="#606060" stroke-width="0.5"/>
<line x1="827.8" y1="927.9" x2="827.8" y2="957.3" stroke="#606060" stroke-width="0.5"/>
<line x1="827.8" y1="963.3" x2="827.8" y2="992" stroke="#606060" stroke-width="0.5"/>
<line x1="833.75" y1="927.9" x2="833.75" y2="957.3" stroke="#606060" stroke-width="0.5"/>
<line x1="833.75" y1="963.3" x2="833.75" y2="992" stroke="#606060" stroke-width="0.5"/>
<line x1="756.4" y1="942.5" x2="800" y2="942.5" stroke="#606060" stroke-width="0.5"/>
<line x1="800" y1="977" x2="853" y2="977" stroke="#606060" stroke-width="0.5"/>
<polyline points="817,942 853,942 853,977" fill="none" stroke="#606060" stroke-width="0.5" />
<polyline points="788,930 796,944 793,940 801,957" fill="none" stroke="#606060" stroke-width="0.5" />
<rect x="691.25" y="960" width="35" height="4.25" fill="#000"/>
<rect x="691.25" y="960" width="4.5" height="37" fill="#000"/>
<rect x="720.5" y="957.3" width="6" height="35.2" fill="#000"/>
<rect x="691.25" y="991.25" width="58.75" height="5.75" fill="#000"/>
<rect x="744" y="997.9" width="5.3" height="33.1" fill="#000"/>
<polyline points="704,965 704,985 703,991" fill="none" stroke="#606060" stroke-width="0.5" />
<rect x="691.25" y="1031.25" width="58.75" height="5" fill="#000"/>
<rect x="691.25" y="1031.25" width="4.5" height="31.25" fill="#000"/>
<rect x="702.5" y="1036.25" width="3.75" height="21.25" fill="#000"/>
<rect x="691.25" y="1057.5" width="321.25" height="5" fill="#000"/>
<polyline points="697,1038 701,1038 701,1052 697,1052" fill="none" stroke="#606060" stroke-width="0.5" />
<line x1="692.5" y1="1062.5" x2="692.5" y2="1075" stroke="#666" stroke-width="1.2"/>
<line x1="692.5" y1="1116" x2="692.5" y2="1129.5" stroke="#666" stroke-width="1.2"/>
<path d="M692.5 1075L672 1075A20.5 20.5 0 0 0 692.5 1095.5" fill="none" stroke="#808080" stroke-width="0.6"/>
<path d="M692.5 1116L672 1116A20.5 20.5 0 0 1 692.5 1095.5" fill="none" stroke="#808080" stroke-width="0.6"/>
<rect x="691.25" y="1129.5" width="71.55" height="5" fill="#000"/>
<rect x="758.2" y="1134.2" width="4.6" height="3.6" fill="#000"/>
<rect x="691.25" y="1129.5" width="4.5" height="63.5" fill="#000"/>
<rect x="701.25" y="1134.5" width="3.25" height="54.5" fill="#000"/>
<rect x="691.25" y="1187.5" width="71.25" height="5.5" fill="#000"/>
<polyline points="697,1137 700,1137 700,1150" fill="none" stroke="#606060" stroke-width="0.5" />
<line x1="731.4" y1="1062.5" x2="731.4" y2="1129.5" stroke="#606060" stroke-width="0.5"/>
<line x1="737.6" y1="1062.5" x2="737.6" y2="1129.5" stroke="#606060" stroke-width="0.5"/>
<line x1="743.6" y1="1062.5" x2="743.6" y2="1129.5" stroke="#606060" stroke-width="0.5"/>
<line x1="749.8" y1="1062.5" x2="749.8" y2="1129.5" stroke="#606060" stroke-width="0.5"/>
<line x1="756.4" y1="1062.5" x2="756.4" y2="1129.5" stroke="#606060" stroke-width="0.5"/>
<line x1="762.8" y1="1062.5" x2="762.8" y2="1129.5" stroke="#606060" stroke-width="0.5"/>
<line x1="731.4" y1="1096.2" x2="762.8" y2="1096.2" stroke="#606060" stroke-width="0.5"/>
<rect x="750" y="1030.2" width="289.8" height="5.2" fill="#000"/>
<rect x="1032.6" y="1030.2" width="7.2" height="144.8" fill="#000"/>
<rect x="988.75" y="1035.5" width="5" height="22" fill="#000"/>
<rect x="1029.2" y="1058.4" width="3.8" height="4.2" fill="#000"/>
<polyline points="826,1041 841,1041 841,1044.5 826,1044.5 826,1041" fill="none" stroke="#777" stroke-width="0.5" />
<polyline points="885,1040 895,1040 895,1044 885,1044 885,1040" fill="none" stroke="#777" stroke-width="0.5" />
<polyline points="898,1037 930,1037 930,1050 898,1050 898,1037" fill="none" stroke="#777" stroke-width="0.5" />
<line x1="992.8" y1="1045.4" x2="1001.2" y2="1045.4" stroke="#000" stroke-width="2"/>
<line x1="1000" y1="1035.4" x2="1000" y2="1045" stroke="#606060" stroke-width="0.5"/>
<line x1="1001.2" y1="1035.4" x2="1001.2" y2="1045" stroke="#606060" stroke-width="0.5"/>
<path d="M1028.6 1059L1028.6 1044.5A14.5 14.5 0 0 0 1014.1 1059" fill="none" stroke="#808080" stroke-width="0.6"/>
<rect x="757.8" y="1162.2" width="5" height="197.8" fill="#000"/>
<rect x="750" y="1188.75" width="8.25" height="4.25" fill="#000"/>
<rect x="775" y="1162.5" width="12.5" height="30.5" fill="#000"/>
<rect x="896.75" y="1162.5" width="12.5" height="30.5" fill="#000"/>
<rect x="773" y="1302.5" width="16.5" height="31.25" fill="#000"/>
<rect x="896.75" y="1302.5" width="12.5" height="31.25" fill="#000"/>
<rect x="941.25" y="1162.5" width="93.75" height="3.75" fill="#000"/>
<rect x="941.25" y="1162.5" width="4.5" height="197.5" fill="#000"/>
<line x1="945.75" y1="1173.5" x2="1040" y2="1173.5" stroke="#000" stroke-width="2.2"/>
<line x1="975" y1="1166.5" x2="975" y2="1172.5" stroke="#888" stroke-width="0.5"/>
<line x1="983" y1="1166.5" x2="983" y2="1172.5" stroke="#888" stroke-width="0.5"/>
<line x1="993" y1="1166.5" x2="993" y2="1172.5" stroke="#888" stroke-width="0.5"/>
<line x1="1002" y1="1166.5" x2="1002" y2="1172.5" stroke="#888" stroke-width="0.5"/>
<line x1="1012" y1="1166.5" x2="1012" y2="1172.5" stroke="#888" stroke-width="0.5"/>
<line x1="1020" y1="1166.5" x2="1020" y2="1172.5" stroke="#888" stroke-width="0.5"/>
<polyline points="1027,1099 1033,1099 1033,1118 1027,1118 1027,1099" fill="none" stroke="#777" stroke-width="0.5" />
<line x1="757.5" y1="1365.5" x2="805" y2="1365.5" stroke="#b0b0b0" stroke-width="2.6"/>
<line x1="757.5" y1="1360" x2="805" y2="1360" stroke="#7a7a7a" stroke-width="0.8"/>
<line x1="757.5" y1="1359.6" x2="757.5" y2="1366.6" stroke="#7a7a7a" stroke-width="0.8"/>
<line x1="805" y1="1359.6" x2="805" y2="1366.6" stroke="#7a7a7a" stroke-width="0.8"/>
<line x1="850" y1="1365.5" x2="943.75" y2="1365.5" stroke="#b0b0b0" stroke-width="2.6"/>
<line x1="850" y1="1360" x2="943.75" y2="1360" stroke="#7a7a7a" stroke-width="0.8"/>
<line x1="850" y1="1359.6" x2="850" y2="1366.6" stroke="#7a7a7a" stroke-width="0.8"/>
<line x1="943.75" y1="1359.6" x2="943.75" y2="1366.6" stroke="#7a7a7a" stroke-width="0.8"/>
<line x1="1034.5" y1="1365.5" x2="1091" y2="1365.5" stroke="#b0b0b0" stroke-width="2.6"/>
<line x1="1034.5" y1="1360" x2="1091" y2="1360" stroke="#7a7a7a" stroke-width="0.8"/>
<line x1="1034.5" y1="1359.6" x2="1034.5" y2="1366.6" stroke="#7a7a7a" stroke-width="0.8"/>
<line x1="1091" y1="1359.6" x2="1091" y2="1366.6" stroke="#7a7a7a" stroke-width="0.8"/>
<path d="M713.75 1365L713.75 1386.88A21.88 21.88 0 0 0 735.62 1365" fill="none" stroke="#808080" stroke-width="0.6"/>
<path d="M757.5 1365L757.5 1386.88A21.88 21.88 0 0 1 735.62 1365" fill="none" stroke="#808080" stroke-width="0.6"/>
<path d="M805 1365L805 1387.5A22.5 22.5 0 0 0 827.5 1365" fill="none" stroke="#808080" stroke-width="0.6"/>
<path d="M850 1365L850 1387.5A22.5 22.5 0 0 1 827.5 1365" fill="none" stroke="#808080" stroke-width="0.6"/>
<path d="M943.75 1365L943.75 1386.88A21.88 21.88 0 0 0 965.62 1365" fill="none" stroke="#808080" stroke-width="0.6"/>
<path d="M987.5 1365L987.5 1386.88A21.88 21.88 0 0 1 965.62 1365" fill="none" stroke="#808080" stroke-width="0.6"/>
<path d="M990 1365L990 1387.25A22.25 22.25 0 0 0 1012.25 1365" fill="none" stroke="#808080" stroke-width="0.6"/>
<path d="M1034.5 1365L1034.5 1387.25A22.25 22.25 0 0 1 1012.25 1365" fill="none" stroke="#808080" stroke-width="0.6"/>
<line x1="988.75" y1="1360" x2="988.75" y2="1387" stroke="#7a7a7a" stroke-width="0.8"/>
<line x1="1091" y1="1325" x2="1091" y2="1365.5" stroke="#7a7a7a" stroke-width="0.8"/>
<line x1="1088.5" y1="1335" x2="1088.5" y2="1360" stroke="#7a7a7a" stroke-width="0.8"/>
<rect x="1070" y="479.5" width="18" height="26.75" fill="#000"/>
<rect x="1245.5" y="479.5" width="18.25" height="26.75" fill="#000"/>
<polygon points="1320.1,457.1 1323.6,456.2 1329.6,497.8 1314.9,500.4 1309.7,470.9 1321,468.7" fill="#000"/>
<rect x="1258.75" y="534.1" width="5" height="14.65" fill="#000"/>
<rect x="1258.75" y="543.25" width="78.75" height="5.5" fill="#000"/>
<rect x="1196.75" y="539.5" width="5" height="50.5" fill="#000"/>
<rect x="1196.75" y="584.5" width="35.75" height="5.5" fill="#000"/>
<rect x="1256.25" y="584.5" width="88.75" height="5.5" fill="#000"/>
<polygon points="1302,543.25 1335.5,543.25 1345.5,590 1302,590" fill="#000"/>
<polygon points="1310,551.25 1331.5,551.25 1337,582 1310,582" fill="#fff"/>
<polyline points="1312,553.5 1329.5,552.5 1332,580 1311,580 1312,553.5" fill="none" stroke="#666" stroke-width="0.5" />
<path d="M1232.5 589L1232.5 611A22 22 0 0 0 1254.5 589" fill="none" stroke="#808080" stroke-width="0.6"/>
<path d="M1200 590L1200 614A24 24 0 0 0 1223.64 594.17" fill="none" stroke="#808080" stroke-width="0.6"/>
<rect x="1180" y="616.25" width="17.5" height="5" fill="#000"/>
<rect x="1196.75" y="613.75" width="5" height="10" fill="#000"/>
<path d="M1201 624L1222.5 624A21.5 21.5 0 0 1 1201 645.5" fill="none" stroke="#808080" stroke-width="0.6"/>
<path d="M1201 667L1222.5 667A21.5 21.5 0 0 0 1201 645.5" fill="none" stroke="#808080" stroke-width="0.6"/>
<rect x="1196.75" y="667" width="5" height="18" fill="#000"/>
<rect x="1125" y="679.5" width="45.75" height="5.5" fill="#000"/>
<rect x="1193.75" y="679.5" width="71.25" height="5.5" fill="#000"/>
<path d="M1171 682L1171 659A23 23 0 0 1 1194 682" fill="none" stroke="#808080" stroke-width="0.6"/>
<rect x="1247.5" y="652.5" width="20" height="32.5" fill="#000"/>
<rect x="1247.5" y="652.5" width="102.5" height="6.25" fill="#000"/>
<rect x="1301.4" y="635.5" width="39.6" height="16.1" fill="#fff" stroke="#000" stroke-width="2.8"/>
<polyline points="1308,637.5 1323.5,637 1323.5,651 1308,651 1308,637.5" fill="none" stroke="#666" stroke-width="0.5" />
<polygon points="1340,634.4 1353.6,632.8 1359.2,666.4 1342.4,668.8" fill="#000"/>
<polygon points="1263,658.75 1270,658.75 1294.5,826 1288,826" fill="#000"/>
<polygon points="1280.72,742.19 1367.72,727.19 1366.28,718.81 1279.28,733.81" fill="#000"/>
<polygon points="1292.18,811.94 1376.68,797.44 1375.32,789.56 1290.82,804.06" fill="#000"/>
<polygon points="1362,716 1371.5,714 1375,733.5 1365.5,735.5" fill="#000"/>
<polygon points="1368.5,785.5 1384.5,782.5 1390.5,816.5 1374.5,819.5" fill="#000"/>
<path d="M1293.6 825.6L1314.87 821.85A21.6 21.6 0 0 1 1297.35 846.87" fill="none" stroke="#808080" stroke-width="0.6"/>
<polygon points="1294.3,850 1301.6,848.7 1350,1122 1342.7,1125" fill="#000"/>
<polygon points="1296.64,861.7 1388.64,847.7 1387.36,839.3 1295.36,853.3" fill="#000"/>
<polygon points="1315.9,927.19 1399.5,913.29 1398.1,904.91 1314.5,918.81" fill="#000"/>
<polygon points="1325.82,993.59 1399.52,980.89 1398.08,972.51 1324.38,985.21" fill="#000"/>
<polygon points="1336.77,1060.7 1425.87,1046.4 1424.53,1038 1335.43,1052.3" fill="#000"/>
<polygon points="1344.63,1124.25 1434.63,1109.95 1433.37,1102.05 1343.37,1116.35" fill="#000"/>
<polygon points="1386.5,839.6 1392,838.6 1394,850.6 1388.5,851.6" fill="#000"/>
<polygon points="1395.5,900.6 1402.7,899.3 1405,912 1397.8,913.3" fill="#000"/>
<polygon points="1394.5,962 1414,958.5 1419,988.5 1399.5,992" fill="#000"/>
<polygon points="1420.8,1037 1427,1036 1429.4,1049.4 1423.2,1050.4" fill="#000"/>
<polygon points="1431.5,1098.6 1438,1097.5 1440.4,1110 1433.9,1111.1" fill="#000"/>
<polygon points="1427.5,1137 1442,1134 1446.5,1156.5 1432,1159.5" fill="#000"/>
<polygon points="1444.5,1157 1447.5,1156.5 1451,1177.5 1448,1178" fill="#000"/>
<polygon points="1457.5,1305.5 1470,1303 1474.5,1328 1462,1330.5" fill="#000"/>
<line x1="1329.14" y1="455.3" x2="1336.48" y2="497.8" stroke="#bbb" stroke-width="2.4"/>
<line x1="1327.14" y1="455.3" x2="1334.48" y2="497.8" stroke="#666" stroke-width="0.6"/>
<line x1="1330.94" y1="455.3" x2="1338.28" y2="497.8" stroke="#666" stroke-width="0.6"/>
<path d="M1336.01 498L1357 494.3A21.31 21.31 0 0 1 1339.71 518.99" fill="none" stroke="#808080" stroke-width="0.6"/>
<path d="M1343.27 540L1364.26 536.3A21.31 21.31 0 0 0 1339.56 519.01" fill="none" stroke="#808080" stroke-width="0.6"/>
<path d="M1351.9 590L1373.39 586.21A21.82 21.82 0 0 1 1355.69 611.49" fill="none" stroke="#808080" stroke-width="0.6"/>
<path d="M1359.33 633L1380.82 629.21A21.82 21.82 0 0 0 1355.54 611.51" fill="none" stroke="#808080" stroke-width="0.6"/>
<path d="M1365.03 666L1389.02 661.77A24.36 24.36 0 0 1 1369.26 689.99" fill="none" stroke="#808080" stroke-width="0.6"/>
<path d="M1373.32 714L1397.31 709.77A24.36 24.36 0 0 0 1369.09 690.01" fill="none" stroke="#808080" stroke-width="0.6"/>
<path d="M1376.77 734L1402.26 729.51A25.88 25.88 0 0 1 1381.26 759.49" fill="none" stroke="#808080" stroke-width="0.6"/>
<path d="M1385.58 785L1411.07 780.51A25.88 25.88 0 0 0 1381.08 759.51" fill="none" stroke="#808080" stroke-width="0.6"/>
<path d="M1395.08 840L1415.76 836.35A21 21 0 0 0 1391.43 819.32" fill="none" stroke="#808080" stroke-width="0.6"/>
<path d="M1397.15 852L1420.64 847.86A23.85 23.85 0 0 1 1401.29 875.49" fill="none" stroke="#808080" stroke-width="0.6"/>
<path d="M1405.26 899L1428.75 894.86A23.85 23.85 0 0 0 1401.12 875.51" fill="none" stroke="#808080" stroke-width="0.6"/>
<path d="M1407.51 912L1431.5 907.77A24.36 24.36 0 0 1 1411.74 935.99" fill="none" stroke="#808080" stroke-width="0.6"/>
<path d="M1415.8 960L1439.79 955.77A24.36 24.36 0 0 0 1411.57 936.01" fill="none" stroke="#808080" stroke-width="0.6"/>
<path d="M1421.15 991L1444.64 986.86A23.85 23.85 0 0 1 1425.3 1014.49" fill="none" stroke="#808080" stroke-width="0.6"/>
<path d="M1429.27 1038L1452.76 1033.86A23.85 23.85 0 0 0 1425.13 1014.51" fill="none" stroke="#808080" stroke-width="0.6"/>
<path d="M1431.34 1050L1455.83 1045.68A24.87 24.87 0 0 1 1435.66 1074.49" fill="none" stroke="#808080" stroke-width="0.6"/>
<path d="M1439.8 1099L1464.29 1094.68A24.87 24.87 0 0 0 1435.49 1074.51" fill="none" stroke="#808080" stroke-width="0.6"/>
<path d="M1441.88 1111L1462.56 1107.35A21 21 0 0 1 1445.52 1131.68" fill="none" stroke="#808080" stroke-width="0.6"/>
<line x1="1343.77" y1="540" x2="1352.4" y2="590" stroke="#bbb" stroke-width="2.4"/>
<line x1="1341.77" y1="540" x2="1350.4" y2="590" stroke="#666" stroke-width="0.6"/>
<line x1="1345.57" y1="540" x2="1354.2" y2="590" stroke="#666" stroke-width="0.6"/>
<line x1="1359.83" y1="633" x2="1365.53" y2="666" stroke="#bbb" stroke-width="2.4"/>
<line x1="1357.83" y1="633" x2="1363.53" y2="666" stroke="#666" stroke-width="0.6"/>
<line x1="1361.63" y1="633" x2="1367.33" y2="666" stroke="#666" stroke-width="0.6"/>
<line x1="1373.82" y1="714" x2="1377.27" y2="734" stroke="#bbb" stroke-width="2.4"/>
<line x1="1371.82" y1="714" x2="1375.27" y2="734" stroke="#666" stroke-width="0.6"/>
<line x1="1375.62" y1="714" x2="1379.07" y2="734" stroke="#666" stroke-width="0.6"/>
<line x1="1386.08" y1="785" x2="1391.95" y2="819" stroke="#bbb" stroke-width="2.4"/>
<line x1="1384.08" y1="785" x2="1389.95" y2="819" stroke="#666" stroke-width="0.6"/>
<line x1="1387.88" y1="785" x2="1393.75" y2="819" stroke="#666" stroke-width="0.6"/>
<line x1="1395.58" y1="840" x2="1397.65" y2="852" stroke="#bbb" stroke-width="2.4"/>
<line x1="1393.58" y1="840" x2="1395.65" y2="852" stroke="#666" stroke-width="0.6"/>
<line x1="1397.38" y1="840" x2="1399.45" y2="852" stroke="#666" stroke-width="0.6"/>
<line x1="1405.76" y1="899" x2="1408.01" y2="912" stroke="#bbb" stroke-width="2.4"/>
<line x1="1403.76" y1="899" x2="1406.01" y2="912" stroke="#666" stroke-width="0.6"/>
<line x1="1407.56" y1="899" x2="1409.81" y2="912" stroke="#666" stroke-width="0.6"/>
<line x1="1416.3" y1="960" x2="1421.65" y2="991" stroke="#bbb" stroke-width="2.4"/>
<line x1="1414.3" y1="960" x2="1419.65" y2="991" stroke="#666" stroke-width="0.6"/>
<line x1="1418.1" y1="960" x2="1423.45" y2="991" stroke="#666" stroke-width="0.6"/>
<line x1="1429.77" y1="1038" x2="1431.84" y2="1050" stroke="#bbb" stroke-width="2.4"/>
<line x1="1427.77" y1="1038" x2="1429.84" y2="1050" stroke="#666" stroke-width="0.6"/>
<line x1="1431.57" y1="1038" x2="1433.64" y2="1050" stroke="#666" stroke-width="0.6"/>
<line x1="1440.3" y1="1099" x2="1442.38" y2="1111" stroke="#bbb" stroke-width="2.4"/>
<line x1="1438.3" y1="1099" x2="1440.38" y2="1111" stroke="#666" stroke-width="0.6"/>
<line x1="1442.1" y1="1099" x2="1444.18" y2="1111" stroke="#666" stroke-width="0.6"/>
<line x1="1446" y1="1132" x2="1490" y2="1363.75" stroke="#b0b0b0" stroke-width="2.6"/>
<line x1="1441" y1="1158" x2="1479.5" y2="1360" stroke="#7a7a7a" stroke-width="0.6"/>
<line x1="1342.5" y1="1365.5" x2="1392.5" y2="1365.5" stroke="#b0b0b0" stroke-width="2.6"/>
<line x1="1342.5" y1="1360" x2="1392.5" y2="1360" stroke="#7a7a7a" stroke-width="0.8"/>
<line x1="1435" y1="1365.5" x2="1490" y2="1365.5" stroke="#b0b0b0" stroke-width="2.6"/>
<line x1="1435" y1="1360" x2="1480" y2="1360" stroke="#7a7a7a" stroke-width="0.8"/>
<path d="M1392.5 1365L1392.5 1386.25A21.25 21.25 0 0 0 1413.75 1365" fill="none" stroke="#808080" stroke-width="0.6"/>
<path d="M1435 1365L1435 1386.25A21.25 21.25 0 0 1 1413.75 1365" fill="none" stroke="#808080" stroke-width="0.6"/>
<path d="M1298.75 1365L1298.75 1386.88A21.88 21.88 0 0 0 1320.62 1365" fill="none" stroke="#808080" stroke-width="0.6"/>
<path d="M1342.5 1365L1342.5 1386.88A21.88 21.88 0 0 1 1320.62 1365" fill="none" stroke="#808080" stroke-width="0.6"/>
<line x1="1342.5" y1="1359.6" x2="1342.5" y2="1366.6" stroke="#7a7a7a" stroke-width="0.8"/>
<line x1="1392.5" y1="1359.6" x2="1392.5" y2="1366.6" stroke="#7a7a7a" stroke-width="0.8"/>
<line x1="1435" y1="1359.6" x2="1435" y2="1366.6" stroke="#7a7a7a" stroke-width="0.8"/>
<line x1="1298.75" y1="1359.6" x2="1298.75" y2="1366.6" stroke="#7a7a7a" stroke-width="0.8"/>
<polyline points="1242.5,1335 1242.5,1365.5 1298.75,1365.5" fill="none" stroke="#7a7a7a" stroke-width="0.8" />
<polyline points="1245,1335 1245,1360 1298.75,1360" fill="none" stroke="#7a7a7a" stroke-width="0.8" />
<rect x="1030" y="652" width="55" height="6" fill="#000"/>
<rect x="1030" y="652" width="5.5" height="89.25" fill="#000"/>
<rect x="1030" y="763.75" width="5.5" height="76.25" fill="#000"/>
<rect x="1072" y="652" width="13.5" height="33" fill="#000"/>
<rect x="1079.5" y="685" width="6" height="155" fill="#000"/>
<rect x="1072" y="810" width="8" height="30" fill="#000"/>
<line x1="1035.2" y1="770" x2="1079.6" y2="770" stroke="#555" stroke-width="3"/>
<path d="M1035 763.75L1012 763.75A23 23 0 0 1 1035 740.75" fill="none" stroke="#808080" stroke-width="0.6"/>
<rect x="1086" y="679" width="4" height="6" fill="#000"/>
<path d="M1090 684L1090 662A22 22 0 0 1 1112 684" fill="none" stroke="#808080" stroke-width="0.6"/>
<rect x="1112.5" y="679.5" width="12.5" height="5.5" fill="#000"/>
<line x1="1140.2" y1="685" x2="1140.2" y2="840" stroke="#000" stroke-width="6"/>
<rect x="1072" y="837.3" width="189" height="7.9" fill="#000"/>
<rect x="1247.5" y="810" width="13.75" height="32" fill="#000"/>
<rect x="1247.5" y="810" width="40" height="5" fill="#000"/>
<line x1="1250" y1="815" x2="1250" y2="1335" stroke="#000" stroke-width="8"/>
<rect x="1253.75" y="986.25" width="7.5" height="31.25" fill="#000"/>
<rect x="1253.75" y="1162.5" width="7.5" height="31" fill="#000"/>
<rect x="1079.4" y="840" width="9.4" height="391.25" fill="#000"/>
<rect x="1072" y="986.25" width="8" height="31.25" fill="#000"/>
<rect x="1072" y="1162" width="8" height="31.75" fill="#000"/>
<line x1="1165" y1="845.2" x2="1165" y2="1325" stroke="#777" stroke-width="0.6"/>
<line x1="1168.75" y1="845.2" x2="1168.75" y2="1325" stroke="#777" stroke-width="0.6"/>
<line x1="1127.5" y1="845.2" x2="1127.5" y2="1217.5" stroke="#777" stroke-width="0.6"/>
<line x1="1205.5" y1="845.2" x2="1205.5" y2="1217.5" stroke="#777" stroke-width="0.6"/>
<line x1="1088" y1="1089.25" x2="1246" y2="1089.25" stroke="#777" stroke-width="0.6"/>
<line x1="1088" y1="1151.5" x2="1246" y2="1151.5" stroke="#777" stroke-width="0.6"/>
<line x1="1088" y1="1217.5" x2="1246" y2="1217.5" stroke="#777" stroke-width="0.6"/>
<polyline points="1125.5,1086.25 1127.5,1089.25 1129.5,1086.25" fill="none" stroke="#999" stroke-width="0.4" />
<polyline points="1203.5,1086.25 1205.5,1089.25 1207.5,1086.25" fill="none" stroke="#999" stroke-width="0.4" />
<polyline points="1125.5,1148.5 1127.5,1151.5 1129.5,1148.5" fill="none" stroke="#999" stroke-width="0.4" />
<polyline points="1203.5,1148.5 1205.5,1151.5 1207.5,1148.5" fill="none" stroke="#999" stroke-width="0.4" />
<polyline points="1125.5,1214.5 1127.5,1217.5 1129.5,1214.5" fill="none" stroke="#999" stroke-width="0.4" />
<polyline points="1203.5,1214.5 1205.5,1217.5 1207.5,1214.5" fill="none" stroke="#999" stroke-width="0.4" />
<line x1="1096.25" y1="1326.2" x2="1246" y2="1326.2" stroke="#333" stroke-width="1.3"/>
<rect x="1162" y="1325" width="9.25" height="10" fill="#000"/>
<rect x="1237.5" y="1325" width="8.5" height="10" fill="#000"/>
<rect x="1245.5" y="1210" width="15.75" height="125" fill="#000"/>
<rect x="1088" y="1325" width="8.25" height="9.5" fill="#000"/>
<rect x="1072" y="1302.5" width="16" height="32" fill="#000"/>
<rect x="1079.5" y="1334.5" width="5.5" height="25.5" fill="#000"/>
<rect x="1035" y="1354.5" width="50" height="5.5" fill="#000"/>
<rect x="1079.5" y="1253.75" width="8.5" height="5" fill="#000"/>
<line x1="1081" y1="1258.75" x2="1081" y2="1302.5" stroke="#7a7a7a" stroke-width="0.6"/>
<line x1="1084.5" y1="1258.75" x2="1084.5" y2="1302.5" stroke="#7a7a7a" stroke-width="0.6"/>
<path d="M1080 1232.4L1061.4 1232.4A18.6 18.6 0 0 0 1080 1251" fill="none" stroke="#808080" stroke-width="0.6"/>
<path d="M1128.4 1337.5V1354" fill="none" stroke="#e2571c" stroke-width="3.2"/><path d="M1122.6 1347L1128.4 1356L1134.2 1347" fill="none" stroke="#e2571c" stroke-width="3.4" stroke-linejoin="miter"/>
<path d="M1205.4 1358.5V1341.5" fill="none" stroke="#e2571c" stroke-width="3.2"/><path d="M1199.6 1348.5L1205.4 1339.5L1211.2 1348.5" fill="none" stroke="#e2571c" stroke-width="3.4" stroke-linejoin="miter"/>
<rect x="1030" y="840" width="5" height="12.5" fill="#000"/>
<rect x="1030" y="877.5" width="5" height="11.25" fill="#000"/>
<rect x="1029.7" y="882.4" width="50.3" height="4.8" fill="#000"/>
<rect x="1030" y="913.75" width="5" height="78.75" fill="#000"/>
<rect x="1061" y="846.2" width="18" height="35.2" fill="#fff" stroke="#000" stroke-width="2"/>
<polyline points="1064,849 1076,849 1076,878 1064,878 1064,849" fill="none" stroke="#777" stroke-width="0.5" />
<path d="M1030.3 876.5L1009.8 876.5A20.5 20.5 0 0 1 1030.3 856" fill="none" stroke="#808080" stroke-width="0.6"/>
<path d="M1030.3 891.2L1009.8 891.2A20.5 20.5 0 0 0 1030.3 911.7" fill="none" stroke="#808080" stroke-width="0.6"/>
<line x1="1040" y1="1062.2" x2="1079" y2="1062.2" stroke="#606060" stroke-width="0.5"/>
<line x1="1040" y1="1069.6" x2="1079" y2="1069.6" stroke="#606060" stroke-width="0.5"/>
<line x1="1040" y1="1075.4" x2="1079" y2="1075.4" stroke="#606060" stroke-width="0.5"/>
<line x1="1040" y1="1081.2" x2="1079" y2="1081.2" stroke="#606060" stroke-width="0.5"/>
<line x1="1040" y1="1088.6" x2="1079" y2="1088.6" stroke="#606060" stroke-width="0.5"/>
<line x1="1040" y1="1094.8" x2="1079" y2="1094.8" stroke="#606060" stroke-width="0.5"/>
<line x1="1059.4" y1="1062.2" x2="1059.4" y2="1094.8" stroke="#606060" stroke-width="0.5"/>
<rect x="986" y="1207.6" width="94" height="4.8" fill="#000"/>
<rect x="986" y="1207.6" width="5.6" height="152.4" fill="#000"/>
<rect x="997" y="1212" width="3" height="26" fill="#000"/>
<rect x="991.6" y="1235" width="8.4" height="3" fill="#000"/>
<line x1="996.9" y1="1222" x2="991.6" y2="1222" stroke="#606060" stroke-width="0.5"/>
<line x1="1000" y1="1236.5" x2="1039.6" y2="1236.5" stroke="#666" stroke-width="3"/>
<line x1="1038.1" y1="1231" x2="1038.1" y2="1238" stroke="#555" stroke-width="3"/>
<path d="M1037 1214L1053 1214A16 16 0 0 1 1037 1230" fill="none" stroke="#808080" stroke-width="0.6"/>
<rect x="1073.8" y="1212.4" width="5.4" height="9.8" fill="#fff" stroke="#000" stroke-width="1.6"/>
<rect x="1253.75" y="966.25" width="11.25" height="4.25" fill="#000"/>
<rect x="1290" y="966.25" width="25" height="4.25" fill="#000"/>
<path d="M1265 968L1265 945A23 23 0 0 1 1288 968" fill="none" stroke="#808080" stroke-width="0.6"/>
<path d="M1347 1125.5L1350.82 1147.17A22 22 0 0 0 1368.67 1121.68" fill="none" stroke="#808080" stroke-width="0.6"/>
<rect x="1318.75" y="1148" width="112.5" height="5" fill="#000"/>
<rect x="1318.75" y="1148" width="4.5" height="178.25" fill="#000"/>
<rect x="1253.75" y="1210" width="68.75" height="5" fill="#000"/>
<rect x="1318.75" y="1322" width="28.75" height="4.25" fill="#000"/>
<rect x="1342" y="1322" width="5.5" height="38" fill="#000"/>
<rect x="1249.25" y="1335" width="4.5" height="23.75" fill="#000"/>
<rect x="1249.25" y="1353.75" width="48.25" height="5.5" fill="#000"/>
<line x1="1323.25" y1="1177.5" x2="1372.5" y2="1177.5" stroke="#555" stroke-width="1.4"/>
<line x1="1372" y1="1171" x2="1372" y2="1191" stroke="#555" stroke-width="1.4"/>
<line x1="1323.25" y1="1227.5" x2="1372.5" y2="1227.5" stroke="#555" stroke-width="1.4"/>
<line x1="1372" y1="1216" x2="1372" y2="1228.5" stroke="#555" stroke-width="1.4"/>
<line x1="1262" y1="1245" x2="1287" y2="1245" stroke="#606060" stroke-width="0.5"/>
<line x1="1292" y1="1245" x2="1317.5" y2="1245" stroke="#606060" stroke-width="0.5"/>
<line x1="1262" y1="1251.2" x2="1287" y2="1251.2" stroke="#606060" stroke-width="0.5"/>
<line x1="1292" y1="1251.2" x2="1317.5" y2="1251.2" stroke="#606060" stroke-width="0.5"/>
<line x1="1262" y1="1257.4" x2="1287" y2="1257.4" stroke="#606060" stroke-width="0.5"/>
<line x1="1292" y1="1257.4" x2="1317.5" y2="1257.4" stroke="#606060" stroke-width="0.5"/>
<line x1="1262" y1="1263.6" x2="1287" y2="1263.6" stroke="#606060" stroke-width="0.5"/>
<line x1="1292" y1="1263.6" x2="1317.5" y2="1263.6" stroke="#606060" stroke-width="0.5"/>
<line x1="1262" y1="1269.8" x2="1287" y2="1269.8" stroke="#606060" stroke-width="0.5"/>
<line x1="1292" y1="1269.8" x2="1317.5" y2="1269.8" stroke="#606060" stroke-width="0.5"/>
<line x1="1262" y1="1276" x2="1287" y2="1276" stroke="#606060" stroke-width="0.5"/>
<line x1="1292" y1="1276" x2="1317.5" y2="1276" stroke="#606060" stroke-width="0.5"/>
<line x1="1262" y1="1282.2" x2="1287" y2="1282.2" stroke="#606060" stroke-width="0.5"/>
<line x1="1292" y1="1282.2" x2="1317.5" y2="1282.2" stroke="#606060" stroke-width="0.5"/>
<line x1="1262" y1="1288.4" x2="1287" y2="1288.4" stroke="#606060" stroke-width="0.5"/>
<line x1="1292" y1="1288.4" x2="1317.5" y2="1288.4" stroke="#606060" stroke-width="0.5"/>
<line x1="1262" y1="1294.6" x2="1287" y2="1294.6" stroke="#606060" stroke-width="0.5"/>
<line x1="1292" y1="1294.6" x2="1317.5" y2="1294.6" stroke="#606060" stroke-width="0.5"/>
<line x1="1262" y1="1300.8" x2="1287" y2="1300.8" stroke="#606060" stroke-width="0.5"/>
<line x1="1292" y1="1300.8" x2="1317.5" y2="1300.8" stroke="#606060" stroke-width="0.5"/>
<line x1="1262" y1="1307" x2="1287" y2="1307" stroke="#606060" stroke-width="0.5"/>
<line x1="1292" y1="1307" x2="1317.5" y2="1307" stroke="#606060" stroke-width="0.5"/>
<line x1="1262" y1="1313.2" x2="1287" y2="1313.2" stroke="#606060" stroke-width="0.5"/>
<line x1="1292" y1="1313.2" x2="1317.5" y2="1313.2" stroke="#606060" stroke-width="0.5"/>
<line x1="1262" y1="1319.4" x2="1287" y2="1319.4" stroke="#606060" stroke-width="0.5"/>
<line x1="1292" y1="1319.4" x2="1317.5" y2="1319.4" stroke="#606060" stroke-width="0.5"/>
<line x1="1262" y1="1325.6" x2="1287" y2="1325.6" stroke="#606060" stroke-width="0.5"/>
<line x1="1292" y1="1325.6" x2="1317.5" y2="1325.6" stroke="#606060" stroke-width="0.5"/>
<line x1="1262" y1="1245" x2="1262" y2="1326" stroke="#606060" stroke-width="0.5"/>
<line x1="1287" y1="1245" x2="1287" y2="1326" stroke="#606060" stroke-width="0.5"/>
<line x1="1292" y1="1245" x2="1292" y2="1326" stroke="#606060" stroke-width="0.5"/>
<line x1="1317.5" y1="1245" x2="1317.5" y2="1326" stroke="#606060" stroke-width="0.5"/>
<line x1="1275" y1="1245" x2="1275" y2="1326" stroke="#606060" stroke-width="0.5"/>
<line x1="1303.75" y1="1245" x2="1303.75" y2="1326" stroke="#606060" stroke-width="0.5"/>
<polyline points="1273,1248 1275,1245 1277,1248" fill="none" stroke="#606060" stroke-width="0.5" />
<polyline points="1301.75,1323 1303.75,1326 1305.75,1323" fill="none" stroke="#606060" stroke-width="0.5" />
<g style="filter:grayscale(1)">
<text x="987.9" y="195.3" font-size="24.3" font-weight="700" text-anchor="middle">БКТ 1.6</text>
<text x="987.6" y="224.6" font-size="24.3" font-weight="700" text-anchor="middle">372,5 (595,0)</text>
<text x="994" y="310.6" font-size="14.6" text-anchor="middle">11,8</text>
<text x="1082" y="296.1" font-size="14.6" text-anchor="middle">3,9</text>
<text x="1027.6" y="349.1" font-size="14.6" text-anchor="middle">2,1</text>
<text x="1082" y="349.6" font-size="14.6" text-anchor="middle">2,1</text>
<text x="1117.5" y="349.1" font-size="14.6" text-anchor="middle">1,8</text>
<text x="868" y="367.6" font-size="14.6" text-anchor="middle">3,0</text>
<text x="1057" y="382.6" font-size="14.6" text-anchor="middle">16,8</text>
<text x="944.5" y="405.1" font-size="14.6" text-anchor="middle">22,7</text>
<text x="787" y="415.85" font-size="14.6" text-anchor="middle">219,2</text>
<text x="868" y="415.85" font-size="14.6" text-anchor="middle">5,3</text>
<text x="1061" y="415.85" font-size="14.6" text-anchor="middle">3,8</text>
<text x="1112.5" y="415.85" font-size="14.6" text-anchor="middle">3,8</text>
<text x="1013.75" y="433.85" font-size="14.6" text-anchor="middle">6,4</text>
<text x="1047.5" y="446.1" font-size="14.6" text-anchor="middle">1,0</text>
<text x="1073.75" y="446.1" font-size="14.6" text-anchor="middle">1,0</text>
<text x="1121.3" y="437.7" font-size="14.6" text-anchor="middle">1,9</text>
<text x="1265" y="210.1" font-size="14.6" text-anchor="middle">2,4</text>
<text x="1192" y="310.6" font-size="14.6" text-anchor="middle">40,4</text>
<text x="1275.75" y="339.1" font-size="14.6" text-anchor="middle">3,6</text>
<text x="1285" y="389.6" font-size="14.6" text-anchor="middle">7,9</text>
<text x="1172.5" y="427.1" font-size="14.6" text-anchor="middle">7,8</text>
<text x="1233" y="427.1" font-size="14.6" text-anchor="middle">6,5</text>
<text x="729.8" y="1169.2" font-size="14.6" text-anchor="middle">6,8</text>
<text x="1012.4" y="1048" font-size="14.3" text-anchor="middle">1,9</text>
<text x="847" y="1137.8" font-size="24.3" font-weight="700" text-anchor="middle">БКТ 1.4</text>
<text x="847.5" y="1166.8" font-size="24.3" font-weight="700" text-anchor="middle">157,4</text>
<text x="849.25" y="1326.6" font-size="14.6" text-anchor="middle">148,7</text>
<text x="1391.7" y="1263.6" font-size="24.3" font-weight="700" text-anchor="middle">БКТ 1.5</text>
<text x="1391.4" y="1292.6" font-size="24.3" font-weight="700" text-anchor="middle">62,6</text>
<text x="1355" y="1168.5" font-size="14.6" text-anchor="middle">2,5</text>
<text x="1347.5" y="1210.5" font-size="14.6" text-anchor="middle">5,3</text>
<text x="1430.5" y="1326.6" font-size="14.6" text-anchor="middle">54,8</text>
<text x="232.1" y="756.9" font-size="24.3" font-weight="700" text-anchor="middle">БКТ 1.2</text>
<text x="232.3" y="785.4" font-size="24.3" font-weight="700" text-anchor="middle">164,4</text>
<text x="287.2" y="1156.9" font-size="24.3" font-weight="700" text-anchor="middle">БКТ 1.3</text>
<text x="287" y="1185.8" font-size="24.3" font-weight="700" text-anchor="middle">136,1</text>
<text x="270" y="966.85" font-size="14.6" text-anchor="middle">154,7</text>
<text x="360" y="970.1" font-size="14.6" text-anchor="middle">6,3</text>
<text x="346.25" y="1019.35" font-size="14.6" text-anchor="middle">3,4</text>
<text x="401.75" y="1046.35" font-size="14.6" text-anchor="middle">3,2</text>
<text x="393" y="1170.1" font-size="14.6" text-anchor="middle">7,6</text>
<text x="298.75" y="1327.1" font-size="14.6" text-anchor="middle">125,3</text>
</g>
</svg>
</body></html>
